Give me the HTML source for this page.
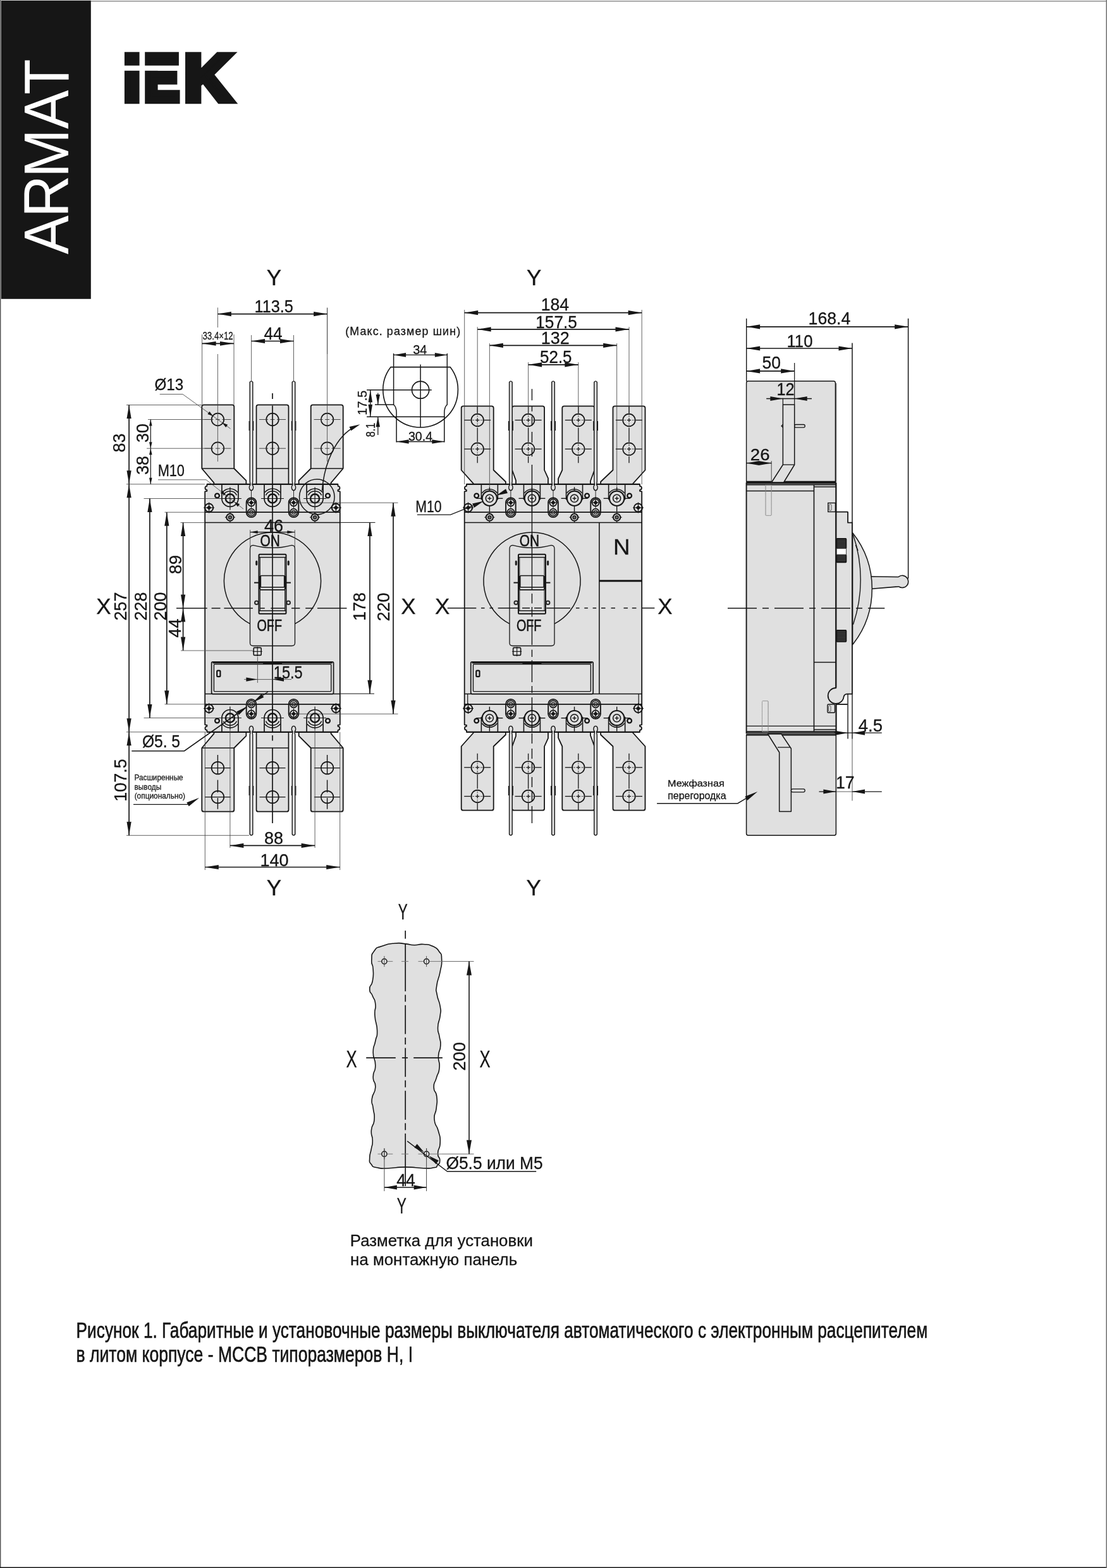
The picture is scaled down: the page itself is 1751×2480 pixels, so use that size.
<!DOCTYPE html>
<html lang="ru">
<head>
<meta charset="utf-8">
<title>ARMAT IEK - MCCB H, I</title>
<style>
html,body{margin:0;padding:0;background:#fff;}
body{width:1751px;height:2480px;overflow:hidden;position:relative;font-family:"Liberation Sans", "DejaVu Sans", sans-serif;}
svg{position:absolute;left:0;top:0;display:block;will-change:transform;}
svg text{font-family:"Liberation Sans", "DejaVu Sans", sans-serif;}
.d text{stroke:#161616;stroke-width:.3px;}
.d .b text{stroke-width:.55px;}
</style>
</head>
<body>
<svg width="1751" height="2480" viewBox="0 0 1751 2480">
<rect x="0" y="0" width="1751" height="2480" rx="0" fill="#ffffff" stroke="none"/>
<rect x="1.8" y="0.8" width="142" height="472" rx="0" fill="#161616" stroke="none"/>
<text transform="translate(108.1 402) rotate(-90) scale(0.92 1)" font-size="100.1" x="-0.2 63.3 131.8 215.3 274.5" fill="#ffffff">ARMAT</text>
<text id="logo" y="158.60" font-size="104.2" font-weight="bold" fill="#161616" stroke="#161616" stroke-width="10.4" stroke-linejoin="miter" stroke-miterlimit="10"><tspan x="195.35" textLength="27.00" lengthAdjust="spacingAndGlyphs">I</tspan><tspan x="227.68" textLength="55.92" lengthAdjust="spacingAndGlyphs">E</tspan><tspan x="291.23" textLength="75.14" lengthAdjust="spacingAndGlyphs">K</tspan></text>
<rect x="190" y="103.7" width="98.5" height="8.1" rx="0" fill="#ffffff" stroke="none"/>
<g class="d">
<path d="M338.4 766.0 L338.4 763.6 L319.3 741.0 L319.3 643.3 Q319.3 640.3 322.3 640.3 L367.3 640.3 Q370.3 640.3 370.3 643.3 L370.3 741.0 L389.4 760.1 L389.4 766.0 Z" fill="#e0e0e0" stroke="#161616" stroke-width="1.8" stroke-linejoin="round"/>
<line x1="319.3" y1="741" x2="370.3" y2="741" stroke="#161616" stroke-width="1.5"/>
<path d="M405.5 766.0 L405.5 643.3 Q405.5 640.3 408.5 640.3 L453.5 640.3 Q456.5 640.3 456.5 643.3 L456.5 766.0 Z" fill="#e0e0e0" stroke="#161616" stroke-width="1.8" stroke-linejoin="round"/>
<line x1="405.5" y1="741" x2="456.5" y2="741" stroke="#161616" stroke-width="1.4"/>
<path d="M472.6 766.0 L472.6 760.1 L491.7 741.0 L491.7 643.3 Q491.7 640.3 494.7 640.3 L539.7 640.3 Q542.7 640.3 542.7 643.3 L542.7 741.0 L523.6 763.6 L523.6 766.0 Z" fill="#e0e0e0" stroke="#161616" stroke-width="1.8" stroke-linejoin="round"/>
<line x1="491.7" y1="741" x2="542.7" y2="741" stroke="#161616" stroke-width="1.5"/>
<path d="M338.4 1158.0 L338.4 1160.4 L319.3 1183.0 L319.3 1280.7 Q319.3 1283.7 322.3 1283.7 L367.3 1283.7 Q370.3 1283.7 370.3 1280.7 L370.3 1183.0 L389.4 1163.9 L389.4 1158.0 Z" fill="#e0e0e0" stroke="#161616" stroke-width="1.8" stroke-linejoin="round"/>
<line x1="319.3" y1="1183" x2="370.3" y2="1183" stroke="#161616" stroke-width="1.5"/>
<path d="M405.5 1158.0 L405.5 1280.7 Q405.5 1283.7 408.5 1283.7 L453.5 1283.7 Q456.5 1283.7 456.5 1280.7 L456.5 1158.0 Z" fill="#e0e0e0" stroke="#161616" stroke-width="1.8" stroke-linejoin="round"/>
<line x1="405.5" y1="1183" x2="456.5" y2="1183" stroke="#161616" stroke-width="1.4"/>
<path d="M472.6 1158.0 L472.6 1163.9 L491.7 1183.0 L491.7 1280.7 Q491.7 1283.7 494.7 1283.7 L539.7 1283.7 Q542.7 1283.7 542.7 1280.7 L542.7 1183.0 L523.6 1160.4 L523.6 1158.0 Z" fill="#e0e0e0" stroke="#161616" stroke-width="1.8" stroke-linejoin="round"/>
<line x1="491.7" y1="1183" x2="542.7" y2="1183" stroke="#161616" stroke-width="1.5"/>
<path d="M327.4 765.8 L534.5 765.8 L534.5 768.8 A3 3 0 0 1 534.5 774.8 L534.5 776.8 L537.8 777.3 L537.8 1146.3 L534.5 1146.8 L534.5 1148.8 A3 3 0 0 1 534.5 1154.8 L534.5 1157.8 L327.4 1157.8 L327.4 1154.8 A3 3 0 0 1 327.4 1148.8 L327.4 1146.8 L324.2 1146.3 L324.2 777.3 L327.4 776.8 L327.4 774.8 A3 3 0 0 1 327.4 768.8 Z" fill="#e0e0e0" stroke="#161616" stroke-width="1.8" stroke-linejoin="round"/>
<line x1="327.45" y1="765.8" x2="534.55" y2="765.8" stroke="#161616" stroke-width="2.2"/>
<line x1="327.45" y1="1157.8" x2="534.55" y2="1157.8" stroke="#161616" stroke-width="2"/>
<line x1="324.25" y1="810.2" x2="537.75" y2="810.2" stroke="#161616" stroke-width="1.7"/>
<line x1="324.25" y1="826.6" x2="537.75" y2="826.6" stroke="#161616" stroke-width="1.5"/>
<line x1="324.25" y1="1097.4" x2="537.75" y2="1097.4" stroke="#161616" stroke-width="1.5"/>
<line x1="324.25" y1="1113.8" x2="537.75" y2="1113.8" stroke="#161616" stroke-width="1.7"/>
<path d="M395.2 761.0 L395.2 604.5 Q397.5 601.3 399.8 604.5 L399.8 761.0 C399.8 764.0 398.9 764.5 399.1 767.0 C401.7 769.0 400.9 775.6 397.5 775.6 C394.1 775.6 393.3 769.0 395.9 767.0 C396.1 764.5 395.2 764.0 395.2 761.0 Z" fill="#e0e0e0" stroke="#161616" stroke-width="1.4" stroke-linejoin="round"/>
<line x1="394.1" y1="666" x2="394.1" y2="681" stroke="#161616" stroke-width="1.1"/>
<line x1="400.9" y1="666" x2="400.9" y2="681" stroke="#161616" stroke-width="1.1"/>
<line x1="397.5" y1="776" x2="397.5" y2="787" stroke="#161616" stroke-width="0.9"/>
<path d="M462.2 761.0 L462.2 604.5 Q464.5 601.3 466.8 604.5 L466.8 761.0 C466.8 764.0 465.9 764.5 466.1 767.0 C468.7 769.0 467.9 775.6 464.5 775.6 C461.1 775.6 460.3 769.0 462.9 767.0 C463.1 764.5 462.2 764.0 462.2 761.0 Z" fill="#e0e0e0" stroke="#161616" stroke-width="1.4" stroke-linejoin="round"/>
<line x1="461.1" y1="666" x2="461.1" y2="681" stroke="#161616" stroke-width="1.1"/>
<line x1="467.9" y1="666" x2="467.9" y2="681" stroke="#161616" stroke-width="1.1"/>
<line x1="464.5" y1="776" x2="464.5" y2="787" stroke="#161616" stroke-width="0.9"/>
<path d="M395.2 1163.0 L395.2 1319.5 Q397.5 1322.7 399.8 1319.5 L399.8 1163.0 C399.8 1160.0 398.9 1159.5 399.1 1157.0 C401.7 1155.0 400.9 1148.4 397.5 1148.4 C394.1 1148.4 393.3 1155.0 395.9 1157.0 C396.1 1159.5 395.2 1160.0 395.2 1163.0 Z" fill="#e0e0e0" stroke="#161616" stroke-width="1.4" stroke-linejoin="round"/>
<line x1="394.1" y1="1258" x2="394.1" y2="1243" stroke="#161616" stroke-width="1.1"/>
<line x1="400.9" y1="1258" x2="400.9" y2="1243" stroke="#161616" stroke-width="1.1"/>
<path d="M462.2 1163.0 L462.2 1319.5 Q464.5 1322.7 466.8 1319.5 L466.8 1163.0 C466.8 1160.0 465.9 1159.5 466.1 1157.0 C468.7 1155.0 467.9 1148.4 464.5 1148.4 C461.1 1148.4 460.3 1155.0 462.9 1157.0 C463.1 1159.5 462.2 1160.0 462.2 1163.0 Z" fill="#e0e0e0" stroke="#161616" stroke-width="1.4" stroke-linejoin="round"/>
<line x1="461.1" y1="1258" x2="461.1" y2="1243" stroke="#161616" stroke-width="1.1"/>
<line x1="467.9" y1="1258" x2="467.9" y2="1243" stroke="#161616" stroke-width="1.1"/>
<circle cx="344.4" cy="663.5" r="9.8" fill="none" stroke="#161616" stroke-width="1.7"/>
<line x1="323.4" y1="663.5" x2="337.4" y2="663.5" stroke="#333" stroke-width="0.9"/>
<line x1="340.9" y1="663.5" x2="347.9" y2="663.5" stroke="#333" stroke-width="0.9"/>
<line x1="351.4" y1="663.5" x2="365.4" y2="663.5" stroke="#333" stroke-width="0.9"/>
<circle cx="344.4" cy="709.2" r="9.8" fill="none" stroke="#161616" stroke-width="1.7"/>
<line x1="323.4" y1="709.2" x2="337.4" y2="709.2" stroke="#333" stroke-width="0.9"/>
<line x1="340.9" y1="709.2" x2="347.9" y2="709.2" stroke="#333" stroke-width="0.9"/>
<line x1="351.4" y1="709.2" x2="365.4" y2="709.2" stroke="#333" stroke-width="0.9"/>
<circle cx="344.4" cy="1214.6" r="9.8" fill="none" stroke="#161616" stroke-width="1.7"/>
<line x1="323.9" y1="1214.6" x2="364.9" y2="1214.6" stroke="#161616" stroke-width="1.4"/>
<circle cx="344.4" cy="1260.6" r="9.8" fill="none" stroke="#161616" stroke-width="1.7"/>
<line x1="323.9" y1="1260.6" x2="364.9" y2="1260.6" stroke="#161616" stroke-width="1.4"/>
<line x1="344.4" y1="1194" x2="344.4" y2="1225" stroke="#161616" stroke-width="1.4"/>
<line x1="344.4" y1="1233.6" x2="344.4" y2="1253.5" stroke="#161616" stroke-width="1.4"/>
<line x1="344.4" y1="1262" x2="344.4" y2="1279.7" stroke="#161616" stroke-width="1.4"/>
<circle cx="431" cy="663.5" r="9.8" fill="none" stroke="#161616" stroke-width="1.7"/>
<line x1="410" y1="663.5" x2="424" y2="663.5" stroke="#333" stroke-width="0.9"/>
<line x1="427.5" y1="663.5" x2="434.5" y2="663.5" stroke="#333" stroke-width="0.9"/>
<line x1="438" y1="663.5" x2="452" y2="663.5" stroke="#333" stroke-width="0.9"/>
<circle cx="431" cy="709.2" r="9.8" fill="none" stroke="#161616" stroke-width="1.7"/>
<line x1="410" y1="709.2" x2="424" y2="709.2" stroke="#333" stroke-width="0.9"/>
<line x1="427.5" y1="709.2" x2="434.5" y2="709.2" stroke="#333" stroke-width="0.9"/>
<line x1="438" y1="709.2" x2="452" y2="709.2" stroke="#333" stroke-width="0.9"/>
<circle cx="431" cy="1214.6" r="9.8" fill="none" stroke="#161616" stroke-width="1.7"/>
<line x1="410.5" y1="1214.6" x2="451.5" y2="1214.6" stroke="#161616" stroke-width="1.4"/>
<circle cx="431" cy="1260.6" r="9.8" fill="none" stroke="#161616" stroke-width="1.7"/>
<line x1="410.5" y1="1260.6" x2="451.5" y2="1260.6" stroke="#161616" stroke-width="1.4"/>
<circle cx="517.6" cy="663.5" r="9.8" fill="none" stroke="#161616" stroke-width="1.7"/>
<line x1="496.6" y1="663.5" x2="510.6" y2="663.5" stroke="#333" stroke-width="0.9"/>
<line x1="514.1" y1="663.5" x2="521.1" y2="663.5" stroke="#333" stroke-width="0.9"/>
<line x1="524.6" y1="663.5" x2="538.6" y2="663.5" stroke="#333" stroke-width="0.9"/>
<circle cx="517.6" cy="709.2" r="9.8" fill="none" stroke="#161616" stroke-width="1.7"/>
<line x1="496.6" y1="709.2" x2="510.6" y2="709.2" stroke="#333" stroke-width="0.9"/>
<line x1="514.1" y1="709.2" x2="521.1" y2="709.2" stroke="#333" stroke-width="0.9"/>
<line x1="524.6" y1="709.2" x2="538.6" y2="709.2" stroke="#333" stroke-width="0.9"/>
<circle cx="517.6" cy="1214.6" r="9.8" fill="none" stroke="#161616" stroke-width="1.7"/>
<line x1="497.1" y1="1214.6" x2="538.1" y2="1214.6" stroke="#161616" stroke-width="1.4"/>
<circle cx="517.6" cy="1260.6" r="9.8" fill="none" stroke="#161616" stroke-width="1.7"/>
<line x1="497.1" y1="1260.6" x2="538.1" y2="1260.6" stroke="#161616" stroke-width="1.4"/>
<line x1="517.6" y1="1194" x2="517.6" y2="1225" stroke="#161616" stroke-width="1.4"/>
<line x1="517.6" y1="1233.6" x2="517.6" y2="1253.5" stroke="#161616" stroke-width="1.4"/>
<line x1="517.6" y1="1262" x2="517.6" y2="1279.7" stroke="#161616" stroke-width="1.4"/>
<line x1="344.4" y1="560" x2="344.4" y2="730" stroke="#3a3a3a" stroke-width="0.8"/>
<line x1="517.6" y1="487" x2="517.6" y2="730" stroke="#3a3a3a" stroke-width="0.8"/>
<path d="M350.9 766.0 L350.9 788.5 A13.0 13.0 0 0 0 376.9 788.5 L376.9 766.0" fill="none" stroke="#161616" stroke-width="1.7" stroke-linejoin="round"/>
<path d="M351.7 778.8 A15.6 15.6 0 0 1 376.1 778.8" fill="none" stroke="#161616" stroke-width="1.5" stroke-linejoin="round"/>
<path d="M353.3 783.3 A11.8 11.8 0 0 1 374.5 783.3" fill="none" stroke="#161616" stroke-width="1.5" stroke-linejoin="round"/>
<circle cx="363.9" cy="788.5" r="7" fill="none" stroke="#161616" stroke-width="2.5"/>
<line x1="345.9" y1="788.5" x2="381.9" y2="788.5" stroke="#161616" stroke-width="1.2"/>
<line x1="363.9" y1="770.5" x2="363.9" y2="806.5" stroke="#161616" stroke-width="1.2"/>
<path d="M350.9 1158.0 L350.9 1135.5 A13.0 13.0 0 0 1 376.9 1135.5 L376.9 1158.0" fill="none" stroke="#161616" stroke-width="1.7" stroke-linejoin="round"/>
<path d="M351.7 1145.2 A15.6 15.6 0 0 0 376.1 1145.2" fill="none" stroke="#161616" stroke-width="1.5" stroke-linejoin="round"/>
<path d="M353.3 1140.7 A11.8 11.8 0 0 0 374.5 1140.7" fill="none" stroke="#161616" stroke-width="1.5" stroke-linejoin="round"/>
<circle cx="363.9" cy="1135.5" r="7" fill="none" stroke="#161616" stroke-width="2.5"/>
<line x1="345.9" y1="1135.5" x2="381.9" y2="1135.5" stroke="#161616" stroke-width="1.2"/>
<line x1="363.9" y1="1117.5" x2="363.9" y2="1153.5" stroke="#161616" stroke-width="1.2"/>
<path d="M418.0 766.0 L418.0 788.5 A13.0 13.0 0 0 0 444.0 788.5 L444.0 766.0" fill="none" stroke="#161616" stroke-width="1.7" stroke-linejoin="round"/>
<path d="M418.8 778.8 A15.6 15.6 0 0 1 443.2 778.8" fill="none" stroke="#161616" stroke-width="1.5" stroke-linejoin="round"/>
<path d="M420.4 783.3 A11.8 11.8 0 0 1 441.6 783.3" fill="none" stroke="#161616" stroke-width="1.5" stroke-linejoin="round"/>
<circle cx="431" cy="788.5" r="7" fill="none" stroke="#161616" stroke-width="2.5"/>
<line x1="413" y1="788.5" x2="449" y2="788.5" stroke="#161616" stroke-width="1.2"/>
<line x1="431" y1="770.5" x2="431" y2="806.5" stroke="#161616" stroke-width="1.2"/>
<path d="M418.0 1158.0 L418.0 1135.5 A13.0 13.0 0 0 1 444.0 1135.5 L444.0 1158.0" fill="none" stroke="#161616" stroke-width="1.7" stroke-linejoin="round"/>
<path d="M418.8 1145.2 A15.6 15.6 0 0 0 443.2 1145.2" fill="none" stroke="#161616" stroke-width="1.5" stroke-linejoin="round"/>
<path d="M420.4 1140.7 A11.8 11.8 0 0 0 441.6 1140.7" fill="none" stroke="#161616" stroke-width="1.5" stroke-linejoin="round"/>
<circle cx="431" cy="1135.5" r="7" fill="none" stroke="#161616" stroke-width="2.5"/>
<line x1="413" y1="1135.5" x2="449" y2="1135.5" stroke="#161616" stroke-width="1.2"/>
<line x1="431" y1="1117.5" x2="431" y2="1153.5" stroke="#161616" stroke-width="1.2"/>
<path d="M485.1 766.0 L485.1 788.5 A13.0 13.0 0 0 0 511.1 788.5 L511.1 766.0" fill="none" stroke="#161616" stroke-width="1.7" stroke-linejoin="round"/>
<path d="M485.9 778.8 A15.6 15.6 0 0 1 510.3 778.8" fill="none" stroke="#161616" stroke-width="1.5" stroke-linejoin="round"/>
<path d="M487.5 783.3 A11.8 11.8 0 0 1 508.7 783.3" fill="none" stroke="#161616" stroke-width="1.5" stroke-linejoin="round"/>
<circle cx="498.1" cy="788.5" r="7" fill="none" stroke="#161616" stroke-width="2.5"/>
<line x1="480.1" y1="788.5" x2="516.1" y2="788.5" stroke="#161616" stroke-width="1.2"/>
<line x1="498.1" y1="770.5" x2="498.1" y2="806.5" stroke="#161616" stroke-width="1.2"/>
<path d="M485.1 1158.0 L485.1 1135.5 A13.0 13.0 0 0 1 511.1 1135.5 L511.1 1158.0" fill="none" stroke="#161616" stroke-width="1.7" stroke-linejoin="round"/>
<path d="M485.9 1145.2 A15.6 15.6 0 0 0 510.3 1145.2" fill="none" stroke="#161616" stroke-width="1.5" stroke-linejoin="round"/>
<path d="M487.5 1140.7 A11.8 11.8 0 0 0 508.7 1140.7" fill="none" stroke="#161616" stroke-width="1.5" stroke-linejoin="round"/>
<circle cx="498.1" cy="1135.5" r="7" fill="none" stroke="#161616" stroke-width="2.5"/>
<line x1="480.1" y1="1135.5" x2="516.1" y2="1135.5" stroke="#161616" stroke-width="1.2"/>
<line x1="498.1" y1="1117.5" x2="498.1" y2="1153.5" stroke="#161616" stroke-width="1.2"/>
<circle cx="330.6" cy="803" r="6.6" fill="none" stroke="#161616" stroke-width="2"/>
<path d="M327 803 L330.6 799.4 L334.2 803 L330.6 806.6 Z" fill="#161616" stroke="#161616" stroke-width="0.5" stroke-linejoin="miter"/>
<line x1="322.1" y1="803" x2="339.1" y2="803" stroke="#161616" stroke-width="1.1"/>
<line x1="330.6" y1="794.5" x2="330.6" y2="811.5" stroke="#161616" stroke-width="1.1"/>
<circle cx="330.6" cy="1120.5" r="6.6" fill="none" stroke="#161616" stroke-width="2"/>
<path d="M327 1120.5 L330.6 1116.9 L334.2 1120.5 L330.6 1124.1 Z" fill="#161616" stroke="#161616" stroke-width="0.5" stroke-linejoin="miter"/>
<line x1="322.1" y1="1120.5" x2="339.1" y2="1120.5" stroke="#161616" stroke-width="1.1"/>
<line x1="330.6" y1="1112" x2="330.6" y2="1129" stroke="#161616" stroke-width="1.1"/>
<circle cx="343.5" cy="784" r="3.4" fill="none" stroke="#161616" stroke-width="2.3"/>
<circle cx="343.5" cy="1140" r="3.4" fill="none" stroke="#161616" stroke-width="2.3"/>
<circle cx="363.9" cy="818.2" r="5.6" fill="none" stroke="#161616" stroke-width="2"/>
<circle cx="363.9" cy="818.2" r="2.6" fill="#666" stroke="#161616" stroke-width="1.3"/>
<line x1="355.9" y1="818.2" x2="358.9" y2="818.2" stroke="#161616" stroke-width="1.2"/>
<line x1="368.9" y1="818.2" x2="371.9" y2="818.2" stroke="#161616" stroke-width="1.2"/>
<line x1="363.9" y1="810.2" x2="363.9" y2="813.2" stroke="#161616" stroke-width="1.2"/>
<line x1="363.9" y1="823.2" x2="363.9" y2="826.2" stroke="#161616" stroke-width="1.2"/>
<rect x="389.7" y="787.2" width="15.6" height="30.9" rx="7.8" fill="none" stroke="#161616" stroke-width="1.9"/>
<circle cx="397.5" cy="795" r="5.6" fill="none" stroke="#161616" stroke-width="1.7"/>
<path d="M394.1 795 L397.5 791.6 L400.9 795 L397.5 798.4 Z" fill="#161616" stroke="#161616" stroke-width="0.5" stroke-linejoin="miter"/>
<line x1="389" y1="795" x2="406" y2="795" stroke="#161616" stroke-width="1"/>
<line x1="397.5" y1="786.5" x2="397.5" y2="803.5" stroke="#161616" stroke-width="1"/>
<circle cx="397.5" cy="810.3" r="5.6" fill="none" stroke="#161616" stroke-width="1.7"/>
<circle cx="397.5" cy="810.3" r="2.9" fill="none" stroke="#161616" stroke-width="1.2"/>
<circle cx="397.5" cy="810.3" r="0.8" fill="#161616" stroke="#161616" stroke-width="0.8"/>
<rect x="389.7" y="1105.9" width="15.6" height="30.9" rx="7.8" fill="none" stroke="#161616" stroke-width="1.9"/>
<circle cx="397.5" cy="1129" r="5.6" fill="none" stroke="#161616" stroke-width="1.7"/>
<path d="M394.1 1129 L397.5 1125.6 L400.9 1129 L397.5 1132.4 Z" fill="#161616" stroke="#161616" stroke-width="0.5" stroke-linejoin="miter"/>
<line x1="389" y1="1129" x2="406" y2="1129" stroke="#161616" stroke-width="1"/>
<line x1="397.5" y1="1120.5" x2="397.5" y2="1137.5" stroke="#161616" stroke-width="1"/>
<circle cx="397.5" cy="1113.7" r="5.6" fill="none" stroke="#161616" stroke-width="1.7"/>
<circle cx="397.5" cy="1113.7" r="2.9" fill="none" stroke="#161616" stroke-width="1.2"/>
<circle cx="397.5" cy="1113.7" r="0.8" fill="#161616" stroke="#161616" stroke-width="0.8"/>
<circle cx="531.4" cy="803" r="6.6" fill="none" stroke="#161616" stroke-width="2"/>
<path d="M527.8 803 L531.4 799.4 L535 803 L531.4 806.6 Z" fill="#161616" stroke="#161616" stroke-width="0.5" stroke-linejoin="miter"/>
<line x1="522.9" y1="803" x2="539.9" y2="803" stroke="#161616" stroke-width="1.1"/>
<line x1="531.4" y1="794.5" x2="531.4" y2="811.5" stroke="#161616" stroke-width="1.1"/>
<circle cx="531.4" cy="1120.5" r="6.6" fill="none" stroke="#161616" stroke-width="2"/>
<path d="M527.8 1120.5 L531.4 1116.9 L535 1120.5 L531.4 1124.1 Z" fill="#161616" stroke="#161616" stroke-width="0.5" stroke-linejoin="miter"/>
<line x1="522.9" y1="1120.5" x2="539.9" y2="1120.5" stroke="#161616" stroke-width="1.1"/>
<line x1="531.4" y1="1112" x2="531.4" y2="1129" stroke="#161616" stroke-width="1.1"/>
<circle cx="518.5" cy="784" r="3.4" fill="none" stroke="#161616" stroke-width="2.3"/>
<circle cx="518.5" cy="1140" r="3.4" fill="none" stroke="#161616" stroke-width="2.3"/>
<circle cx="498.1" cy="818.2" r="5.6" fill="none" stroke="#161616" stroke-width="2"/>
<circle cx="498.1" cy="818.2" r="2.6" fill="#666" stroke="#161616" stroke-width="1.3"/>
<line x1="490.1" y1="818.2" x2="493.1" y2="818.2" stroke="#161616" stroke-width="1.2"/>
<line x1="503.1" y1="818.2" x2="506.1" y2="818.2" stroke="#161616" stroke-width="1.2"/>
<line x1="498.1" y1="810.2" x2="498.1" y2="813.2" stroke="#161616" stroke-width="1.2"/>
<line x1="498.1" y1="823.2" x2="498.1" y2="826.2" stroke="#161616" stroke-width="1.2"/>
<rect x="456.7" y="787.2" width="15.6" height="30.9" rx="7.8" fill="none" stroke="#161616" stroke-width="1.9"/>
<circle cx="464.5" cy="795" r="5.6" fill="none" stroke="#161616" stroke-width="1.7"/>
<path d="M461.1 795 L464.5 791.6 L467.9 795 L464.5 798.4 Z" fill="#161616" stroke="#161616" stroke-width="0.5" stroke-linejoin="miter"/>
<line x1="456" y1="795" x2="473" y2="795" stroke="#161616" stroke-width="1"/>
<line x1="464.5" y1="786.5" x2="464.5" y2="803.5" stroke="#161616" stroke-width="1"/>
<circle cx="464.5" cy="810.3" r="5.6" fill="none" stroke="#161616" stroke-width="1.7"/>
<circle cx="464.5" cy="810.3" r="2.9" fill="none" stroke="#161616" stroke-width="1.2"/>
<circle cx="464.5" cy="810.3" r="0.8" fill="#161616" stroke="#161616" stroke-width="0.8"/>
<rect x="456.7" y="1105.9" width="15.6" height="30.9" rx="7.8" fill="none" stroke="#161616" stroke-width="1.9"/>
<circle cx="464.5" cy="1129" r="5.6" fill="none" stroke="#161616" stroke-width="1.7"/>
<path d="M461.1 1129 L464.5 1125.6 L467.9 1129 L464.5 1132.4 Z" fill="#161616" stroke="#161616" stroke-width="0.5" stroke-linejoin="miter"/>
<line x1="456" y1="1129" x2="473" y2="1129" stroke="#161616" stroke-width="1"/>
<line x1="464.5" y1="1120.5" x2="464.5" y2="1137.5" stroke="#161616" stroke-width="1"/>
<circle cx="464.5" cy="1113.7" r="5.6" fill="none" stroke="#161616" stroke-width="1.7"/>
<circle cx="464.5" cy="1113.7" r="2.9" fill="none" stroke="#161616" stroke-width="1.2"/>
<circle cx="464.5" cy="1113.7" r="0.8" fill="#161616" stroke="#161616" stroke-width="0.8"/>
<path d="M395.5 986.6 A76.6 76.6 0 1 1 466.5 986.6" fill="none" stroke="#161616" stroke-width="1.5" stroke-linejoin="round"/>
<path d="M395.5 1017.0 L395.5 868.0 Q395.5 862.5 400.5 862.3 Q431.0 870.6 461.5 862.3 Q466.5 862.5 466.5 868.0 L466.5 1017.0 Q466.5 1021.5 461.5 1021.5 L400.5 1021.5 Q395.5 1021.5 395.5 1017.0 Z" fill="#e0e0e0" stroke="#161616" stroke-width="1.3" stroke-linejoin="round"/>
<rect x="409.5" y="876.8" width="43" height="94" rx="1.5" fill="none" stroke="#161616" stroke-width="2"/>
<line x1="410" y1="881.5" x2="452" y2="881.5" stroke="#161616" stroke-width="1.4"/>
<line x1="410" y1="966" x2="452" y2="966" stroke="#161616" stroke-width="1.4"/>
<line x1="411.4" y1="881.5" x2="411.4" y2="966" stroke="#161616" stroke-width="1"/>
<line x1="450.6" y1="881.5" x2="450.6" y2="966" stroke="#161616" stroke-width="1"/>
<rect x="412.3" y="910.5" width="37.4" height="18.3" rx="1" fill="none" stroke="#161616" stroke-width="1.6"/>
<line x1="411" y1="932.8" x2="451" y2="932.8" stroke="#161616" stroke-width="1.7"/>
<line x1="411" y1="911" x2="411" y2="932" stroke="#161616" stroke-width="2.4"/>
<line x1="451" y1="911" x2="451" y2="932" stroke="#161616" stroke-width="2.4"/>
<line x1="402" y1="921.6" x2="409.5" y2="921.6" stroke="#161616" stroke-width="2"/>
<line x1="452.5" y1="921.6" x2="460" y2="921.6" stroke="#161616" stroke-width="2"/>
<rect x="404.8" y="887" width="2" height="7" rx="1" fill="#222" stroke="#161616" stroke-width="1"/>
<circle cx="405.8" cy="953.3" r="2.8" fill="none" stroke="#2a2a2a" stroke-width="2"/>
<rect x="455.2" y="887" width="2" height="7" rx="1" fill="#222" stroke="#161616" stroke-width="1"/>
<circle cx="456.2" cy="953.3" r="2.8" fill="none" stroke="#2a2a2a" stroke-width="2"/>
<g class="b">
<text transform="translate(411.41 863.7) scale(0.8154 1)" font-size="25.58" fill="#161616">ON</text>
<text transform="translate(406.46 997.6) scale(0.7728 1)" font-size="25.58" fill="#161616">OFF</text>
</g>
<rect x="401.2" y="1024.4" width="12" height="12" rx="1.5" fill="none" stroke="#161616" stroke-width="1.6"/>
<line x1="399.7" y1="1030.4" x2="414.7" y2="1030.4" stroke="#161616" stroke-width="1.1"/>
<line x1="407.2" y1="1022.9" x2="407.2" y2="1037.9" stroke="#161616" stroke-width="1.1"/>
<rect x="334.6" y="1046.8" width="193" height="50.8" rx="2" fill="#e0e0e0" stroke="#161616" stroke-width="1.7"/>
<rect x="338.4" y="1050.6" width="185.4" height="43" rx="1" fill="none" stroke="#161616" stroke-width="1.4"/>
<line x1="336.6" y1="1048.3" x2="525.6" y2="1048.3" stroke="#161616" stroke-width="2.4"/>
<line x1="416.1" y1="1049.2" x2="446.1" y2="1049.2" stroke="#161616" stroke-width="3.2"/>
<rect x="343.2" y="1060.6" width="5.2" height="9.6" rx="1.4" fill="none" stroke="#161616" stroke-width="2.2"/>
<circle cx="501.3" cy="785.9" r="27.8" fill="none" stroke="#161616" stroke-width="1.5"/>
<path d="M509.5 776 C512.5 735 530 690 563 674" fill="none" stroke="#161616" stroke-width="1.5" stroke-linejoin="round"/>
<polygon points="569.5,671.2 555.35,681.22 552.59,675.01" fill="#161616"/>
<line x1="279" y1="962" x2="327.7" y2="962" stroke="#161616" stroke-width="1.5"/>
<line x1="334.6" y1="962" x2="348.5" y2="962" stroke="#161616" stroke-width="1.5"/>
<line x1="354.4" y1="962" x2="400" y2="962" stroke="#161616" stroke-width="1.5"/>
<line x1="411" y1="962" x2="418.8" y2="962" stroke="#161616" stroke-width="1.5"/>
<line x1="428.3" y1="962" x2="451" y2="962" stroke="#161616" stroke-width="1.5"/>
<line x1="461" y1="962" x2="474.4" y2="962" stroke="#161616" stroke-width="1.5"/>
<line x1="483.2" y1="962" x2="495.5" y2="962" stroke="#161616" stroke-width="1.5"/>
<line x1="502" y1="962" x2="548.5" y2="962" stroke="#161616" stroke-width="1.5"/>
<line x1="431" y1="622" x2="431" y2="631" stroke="#161616" stroke-width="1.7"/>
<line x1="431" y1="641.5" x2="431" y2="1157.7" stroke="#161616" stroke-width="1.7"/>
<line x1="431" y1="1163" x2="431" y2="1171.6" stroke="#161616" stroke-width="1.7"/>
<line x1="431" y1="1182.7" x2="431" y2="1302" stroke="#161616" stroke-width="1.7"/>
<line x1="344.4" y1="486.5" x2="344.4" y2="518" stroke="#3a3a3a" stroke-width="0.8"/>
<line x1="517.6" y1="486.5" x2="517.6" y2="560" stroke="#3a3a3a" stroke-width="0.8"/>
<line x1="344.4" y1="496.6" x2="517.6" y2="496.6" stroke="#161616" stroke-width="1.7"/>
<polygon points="344.4,496.6 365.9,493 365.9,500.2" fill="#161616"/>
<polygon points="517.6,496.6 496.1,500.2 496.1,493" fill="#161616"/>
<text transform="translate(402.48 493.9) scale(0.9135 1)" font-size="27.64" fill="#161616">113.5</text>
<line x1="319.6" y1="529" x2="319.6" y2="640" stroke="#3a3a3a" stroke-width="0.8"/>
<line x1="370" y1="529" x2="370" y2="640" stroke="#3a3a3a" stroke-width="0.8"/>
<line x1="319.6" y1="543.3" x2="370" y2="543.3" stroke="#161616" stroke-width="1.7"/>
<polygon points="319.6,543.3 341.6,539.9 341.6,546.7" fill="#161616"/>
<polygon points="370,543.3 348,546.7 348,539.9" fill="#161616"/>
<text transform="translate(344.6 537.4) scale(0.78 1)" font-size="17" text-anchor="middle" fill="#161616">33.4×12</text>
<line x1="397.6" y1="530" x2="397.6" y2="603" stroke="#3a3a3a" stroke-width="0.8"/>
<line x1="464.5" y1="530" x2="464.5" y2="603" stroke="#3a3a3a" stroke-width="0.8"/>
<line x1="397.6" y1="539.5" x2="464.5" y2="539.5" stroke="#161616" stroke-width="1.7"/>
<polygon points="397.6,539.5 419.1,535.9 419.1,543.1" fill="#161616"/>
<polygon points="464.5,539.5 443,543.1 443,535.9" fill="#161616"/>
<text transform="translate(417.5 537.3) scale(0.9446 1)" font-size="27.76" fill="#161616">44</text>
<text transform="translate(267.3 616.5) scale(0.93 1)" font-size="26" text-anchor="middle" fill="#161616">Ø13</text>
<path d="M252.7 623.5 L289 623.5 L364.5 678" fill="none" stroke="#3a3a3a" stroke-width="0.8" stroke-linejoin="miter"/>
<polygon points="337.2,658.2 328.37,655.06 331.41,650.84" fill="#161616"/>
<polygon points="351.4,668.6 360.23,671.74 357.19,675.96" fill="#161616"/>
<line x1="200" y1="640.5" x2="319" y2="640.5" stroke="#3a3a3a" stroke-width="0.8"/>
<line x1="200" y1="765.8" x2="324" y2="765.8" stroke="#3a3a3a" stroke-width="0.8"/>
<line x1="200" y1="1157.8" x2="326" y2="1157.8" stroke="#3a3a3a" stroke-width="0.8"/>
<line x1="204.1" y1="640.5" x2="204.1" y2="765.8" stroke="#161616" stroke-width="1.7"/>
<polygon points="204.1,640.5 207.7,662 200.5,662" fill="#161616"/>
<polygon points="204.1,765.8 200.5,744.3 207.7,744.3" fill="#161616"/>
<line x1="204.1" y1="765.8" x2="204.1" y2="1157.8" stroke="#161616" stroke-width="1.7"/>
<polygon points="204.1,765.8 207.7,787.3 200.5,787.3" fill="#161616"/>
<polygon points="204.1,1157.8 200.5,1136.3 207.7,1136.3" fill="#161616"/>
<text transform="translate(197.8 700.5) rotate(-90)" font-size="27" text-anchor="middle" fill="#161616">83</text>
<text transform="translate(199.8 959) rotate(-90)" font-size="27" text-anchor="middle" fill="#161616">257</text>
<line x1="234" y1="663.5" x2="334" y2="663.5" stroke="#3a3a3a" stroke-width="0.8"/>
<line x1="232" y1="709.2" x2="334" y2="709.2" stroke="#3a3a3a" stroke-width="0.8"/>
<line x1="238.3" y1="663.5" x2="238.3" y2="709.2" stroke="#161616" stroke-width="1.2"/>
<polygon points="238.3,663.5 240.6,673.5 236,673.5" fill="#161616"/>
<polygon points="238.3,709.2 236,699.2 240.6,699.2" fill="#161616"/>
<line x1="238.3" y1="709.2" x2="238.3" y2="765.8" stroke="#161616" stroke-width="1.2"/>
<polygon points="238.3,709.2 240.6,719.2 236,719.2" fill="#161616"/>
<polygon points="238.3,765.8 236,755.8 240.6,755.8" fill="#161616"/>
<text transform="translate(234.8 685) rotate(-90)" font-size="27" text-anchor="middle" fill="#161616">30</text>
<text transform="translate(234.8 736) rotate(-90)" font-size="27" text-anchor="middle" fill="#161616">38</text>
<text transform="translate(270.8 753.3) scale(0.87 1)" font-size="25" text-anchor="middle" fill="#161616">M10</text>
<path d="M250 758.8 L326 758.8 L385 805" fill="none" stroke="#3a3a3a" stroke-width="0.8" stroke-linejoin="miter"/>
<polygon points="357.5,783.5 348.81,780.01 352.01,775.91" fill="#161616"/>
<polygon points="370.5,793.8 379.19,797.29 375.99,801.39" fill="#161616"/>
<line x1="227.5" y1="788.5" x2="350" y2="788.5" stroke="#3a3a3a" stroke-width="0.8"/>
<line x1="227.5" y1="1135.5" x2="350" y2="1135.5" stroke="#3a3a3a" stroke-width="0.8"/>
<line x1="236.9" y1="788.5" x2="236.9" y2="1135.5" stroke="#161616" stroke-width="1.7"/>
<polygon points="236.9,788.5 240.5,810 233.3,810" fill="#161616"/>
<polygon points="236.9,1135.5 233.3,1114 240.5,1114" fill="#161616"/>
<text transform="translate(232 959) rotate(-90)" font-size="27" text-anchor="middle" fill="#161616">228</text>
<line x1="260.5" y1="810.2" x2="324" y2="810.2" stroke="#3a3a3a" stroke-width="0.8"/>
<line x1="260.5" y1="1113.8" x2="392" y2="1113.8" stroke="#3a3a3a" stroke-width="0.8"/>
<line x1="263.8" y1="810.2" x2="263.8" y2="1113.8" stroke="#161616" stroke-width="1.7"/>
<polygon points="263.8,810.2 267.4,831.7 260.2,831.7" fill="#161616"/>
<polygon points="263.8,1113.8 260.2,1092.3 267.4,1092.3" fill="#161616"/>
<text transform="translate(262.7 959) rotate(-90)" font-size="27" text-anchor="middle" fill="#161616">200</text>
<line x1="285.5" y1="826.6" x2="324" y2="826.6" stroke="#3a3a3a" stroke-width="0.8"/>
<line x1="289.6" y1="826.6" x2="289.6" y2="962" stroke="#161616" stroke-width="1.7"/>
<polygon points="289.6,826.6 293.2,848.1 286,848.1" fill="#161616"/>
<polygon points="289.6,962 286,940.5 293.2,940.5" fill="#161616"/>
<line x1="289.6" y1="962" x2="289.6" y2="1029" stroke="#161616" stroke-width="1.7"/>
<polygon points="289.6,962 293.2,983.5 286,983.5" fill="#161616"/>
<polygon points="289.6,1029 286,1007.5 293.2,1007.5" fill="#161616"/>
<line x1="286" y1="1029" x2="400" y2="1029" stroke="#555" stroke-width="0.9"/>
<text transform="translate(286.6 893) rotate(-90)" font-size="27" text-anchor="middle" fill="#161616">89</text>
<text transform="translate(286.3 993.5) rotate(-90)" font-size="27" text-anchor="middle" fill="#161616">44</text>
<line x1="537.5" y1="826.4" x2="593.5" y2="826.4" stroke="#161616" stroke-width="1"/>
<line x1="537.5" y1="1097.2" x2="592" y2="1097.2" stroke="#161616" stroke-width="1"/>
<line x1="585" y1="826.4" x2="585" y2="1097.2" stroke="#161616" stroke-width="1.7"/>
<polygon points="585,826.4 588.6,847.9 581.4,847.9" fill="#161616"/>
<polygon points="585,1097.2 581.4,1075.7 588.6,1075.7" fill="#161616"/>
<text transform="translate(578.4 959.4) rotate(-90)" font-size="27" text-anchor="middle" fill="#161616">178</text>
<line x1="466" y1="795.2" x2="629.5" y2="795.2" stroke="#3a3a3a" stroke-width="0.8"/>
<line x1="466" y1="1129.2" x2="629.5" y2="1129.2" stroke="#3a3a3a" stroke-width="0.8"/>
<line x1="622" y1="795.2" x2="622" y2="1129.2" stroke="#161616" stroke-width="1.7"/>
<polygon points="622,795.2 625.6,816.7 618.4,816.7" fill="#161616"/>
<polygon points="622,1129.2 618.4,1107.7 625.6,1107.7" fill="#161616"/>
<text transform="translate(615.8 960) rotate(-90)" font-size="27" text-anchor="middle" fill="#161616">220</text>
<line x1="395.7" y1="838" x2="395.7" y2="870" stroke="#3a3a3a" stroke-width="0.8"/>
<line x1="466.3" y1="838" x2="466.3" y2="870" stroke="#3a3a3a" stroke-width="0.8"/>
<line x1="395.7" y1="841.6" x2="466.3" y2="841.6" stroke="#161616" stroke-width="1.3"/>
<polygon points="395.7,841.6 407.7,839.3 407.7,843.9" fill="#161616"/>
<polygon points="466.3,841.6 454.3,843.9 454.3,839.3" fill="#161616"/>
<text transform="translate(433 840.5)" font-size="27" text-anchor="middle" fill="#161616">46</text>
<line x1="407.4" y1="1039" x2="407.4" y2="1080" stroke="#3a3a3a" stroke-width="0.8"/>
<line x1="386" y1="1074.6" x2="461" y2="1074.6" stroke="#3a3a3a" stroke-width="0.8"/>
<polygon points="407.4,1074.6 389.4,1077.8 389.4,1071.4" fill="#161616"/>
<polygon points="431,1074.6 449,1071.4 449,1077.8" fill="#161616"/>
<text transform="translate(432.81 1072.6) scale(0.8795 1)" font-size="26.74" fill="#161616">15.5</text>
<text transform="translate(255 1182.2) scale(0.91 1)" font-size="27" text-anchor="middle" fill="#161616">Ø5. 5</text>
<path d="M208.3 1187.7 L291.6 1187.7 L389 1119" fill="none" stroke="#161616" stroke-width="1.6" stroke-linejoin="miter"/>
<polygon points="391.5,1117.2 377.82,1130.77 374.13,1125.54" fill="#161616"/>
<polygon points="400,1111 413.68,1097.43 417.37,1102.66" fill="#161616"/>
<line x1="415.5" y1="1100" x2="424" y2="1094" stroke="#161616" stroke-width="1.3"/>
<text transform="translate(212.43 1233.7) scale(0.8648 1)" font-size="13.66" fill="#161616">Расширенные</text>
<text transform="translate(212.58 1248.7) scale(0.8677 1)" font-size="13.63" fill="#161616">выводы</text>
<text transform="translate(212.66 1263.2) scale(0.8719 1)" font-size="13.63" fill="#161616">(опционально)</text>
<path d="M211 1272.4 L297 1272.4" fill="none" stroke="#161616" stroke-width="1.3" stroke-linejoin="miter"/>
<polygon points="315.2,1261.8 298.71,1275.24 295.31,1269.36" fill="#161616"/>
<line x1="200" y1="1321.3" x2="394" y2="1321.3" stroke="#3a3a3a" stroke-width="0.8"/>
<line x1="204.1" y1="1157.8" x2="204.1" y2="1321.3" stroke="#161616" stroke-width="1.7"/>
<polygon points="204.1,1157.8 207.7,1179.3 200.5,1179.3" fill="#161616"/>
<polygon points="204.1,1321.3 200.5,1299.8 207.7,1299.8" fill="#161616"/>
<text transform="translate(199.8 1234) rotate(-90)" font-size="27" text-anchor="middle" fill="#161616">107.5</text>
<line x1="363.9" y1="1150" x2="363.9" y2="1341" stroke="#3a3a3a" stroke-width="0.8"/>
<line x1="498.1" y1="1150" x2="498.1" y2="1341" stroke="#3a3a3a" stroke-width="0.8"/>
<line x1="363.9" y1="1337.4" x2="498.1" y2="1337.4" stroke="#161616" stroke-width="1.7"/>
<polygon points="363.9,1337.4 385.4,1333.8 385.4,1341" fill="#161616"/>
<polygon points="498.1,1337.4 476.6,1341 476.6,1333.8" fill="#161616"/>
<text transform="translate(433 1334.5)" font-size="27" text-anchor="middle" fill="#161616">88</text>
<line x1="324.3" y1="1158" x2="324.3" y2="1376" stroke="#3a3a3a" stroke-width="0.8"/>
<line x1="537.7" y1="1158" x2="537.7" y2="1376" stroke="#3a3a3a" stroke-width="0.8"/>
<line x1="324.3" y1="1371.5" x2="537.7" y2="1371.5" stroke="#161616" stroke-width="1.7"/>
<polygon points="324.3,1371.5 345.8,1367.9 345.8,1375.1" fill="#161616"/>
<polygon points="537.7,1371.5 516.2,1375.1 516.2,1367.9" fill="#161616"/>
<text transform="translate(434 1370)" font-size="27" text-anchor="middle" fill="#161616">140</text>
<text transform="translate(433.5 451.4)" font-size="35" text-anchor="middle" fill="#161616">Y</text>
<text transform="translate(433.5 1416)" font-size="35" text-anchor="middle" fill="#161616">Y</text>
<text transform="translate(163.8 971)" font-size="35" text-anchor="middle" fill="#161616">X</text>
<text transform="translate(646 971)" font-size="35" text-anchor="middle" fill="#161616">X</text>
<path d="M618.1 580.6 A59.3 59.3 0 1 0 712.1 580.6 Z" fill="none" stroke="#161616" stroke-width="1.6" stroke-linejoin="round"/>
<line x1="622.6" y1="559" x2="622.6" y2="640.5" stroke="#161616" stroke-width="1.5"/>
<line x1="707.3" y1="559" x2="707.3" y2="640.5" stroke="#161616" stroke-width="1.5"/>
<path d="M622.6 640 C626.1 643 627.1 647 627.1 653 L627.1 699.5" fill="none" stroke="#161616" stroke-width="1.5" stroke-linejoin="round"/>
<path d="M707.3 640 C703.8 643 702.8 647 702.8 653 L702.8 699.5" fill="none" stroke="#161616" stroke-width="1.5" stroke-linejoin="round"/>
<line x1="580.1" y1="616.7" x2="682.8" y2="616.7" stroke="#161616" stroke-width="1.5"/>
<line x1="593" y1="640" x2="622.6" y2="640" stroke="#161616" stroke-width="1.5"/>
<line x1="580.1" y1="659.2" x2="703.6" y2="659.2" stroke="#161616" stroke-width="1.5"/>
<line x1="665.1" y1="576.6" x2="665.1" y2="676" stroke="#161616" stroke-width="1.5"/>
<circle cx="665.1" cy="616.7" r="13.6" fill="none" stroke="#161616" stroke-width="1.6"/>
<line x1="622.6" y1="561.4" x2="707.3" y2="561.4" stroke="#161616" stroke-width="1.3"/>
<polygon points="622.6,561.4 642.1,558.1 642.1,564.7" fill="#161616"/>
<polygon points="707.3,561.4 687.8,564.7 687.8,558.1" fill="#161616"/>
<text transform="translate(653.24 559.8) scale(1.0072 1)" font-size="19.76" fill="#161616">34</text>
<line x1="627.1" y1="698.5" x2="702.8" y2="698.5" stroke="#161616" stroke-width="1.3"/>
<polygon points="627.1,698.5 646.6,695.2 646.6,701.8" fill="#161616"/>
<polygon points="702.8,698.5 683.3,701.8 683.3,695.2" fill="#161616"/>
<text transform="translate(645.95 696.9) scale(0.9937 1)" font-size="19.76" fill="#161616">30.4</text>
<line x1="585.8" y1="616.7" x2="585.8" y2="659.2" stroke="#161616" stroke-width="1.3"/>
<polygon points="585.8,616.7 589.1,636.2 582.5,636.2" fill="#161616"/>
<polygon points="585.8,659.2 582.5,639.7 589.1,639.7" fill="#161616"/>
<text transform="translate(580.1 656.74) rotate(-90) scale(1.0063 1)" font-size="20.06" fill="#161616">17.5</text>
<line x1="597.8" y1="621.5" x2="597.8" y2="640" stroke="#161616" stroke-width="1.3"/>
<polygon points="597.8,640 594.6,624 601,624" fill="#161616"/>
<line x1="597.8" y1="659.2" x2="597.8" y2="688" stroke="#161616" stroke-width="1.3"/>
<polygon points="597.8,659.2 601,675.2 594.6,675.2" fill="#161616"/>
<text transform="translate(593 691.2) rotate(-90) scale(0.8148 1)" font-size="19.76" fill="#161616">8.1</text>
<text transform="translate(546.19 530.2) scale(0.9508 1)" font-size="18.75" fill="#161616" letter-spacing="1.2">(Макс. размер шин)</text>
<path d="M748.9 766.0 L748.9 765.0 L729.7 743.5 L729.7 645.3 Q729.7 642.3 732.7 642.3 L777.7 642.3 Q780.7 642.3 780.7 645.3 L780.7 743.5 L799.9 762.0 L799.9 766.0 Z" fill="#e0e0e0" stroke="#161616" stroke-width="1.8" stroke-linejoin="round"/>
<path d="M816.0 766.0 L816.0 759.9 L810.1 743.5 L810.1 645.3 Q810.1 642.3 813.1 642.3 L858.1 642.3 Q861.1 642.3 861.1 645.3 L861.1 743.5 L867.0 756.4 L867.0 766.0 Z" fill="#e0e0e0" stroke="#161616" stroke-width="1.8" stroke-linejoin="round"/>
<path d="M883.0 766.0 L883.0 757.2 L889.3 743.5 L889.3 645.3 Q889.3 642.3 892.3 642.3 L937.3 642.3 Q940.3 642.3 940.3 645.3 L940.3 743.5 L934.0 760.8 L934.0 766.0 Z" fill="#e0e0e0" stroke="#161616" stroke-width="1.8" stroke-linejoin="round"/>
<path d="M950.1 766.0 L950.1 762.0 L969.5 743.5 L969.5 645.3 Q969.5 642.3 972.5 642.3 L1017.5 642.3 Q1020.5 642.3 1020.5 645.3 L1020.5 743.5 L1001.1 765.0 L1001.1 766.0 Z" fill="#e0e0e0" stroke="#161616" stroke-width="1.8" stroke-linejoin="round"/>
<path d="M748.9 1158.0 L748.9 1159.0 L729.7 1180.5 L729.7 1278.7 Q729.7 1281.7 732.7 1281.7 L777.7 1281.7 Q780.7 1281.7 780.7 1278.7 L780.7 1180.5 L799.9 1162.0 L799.9 1158.0 Z" fill="#e0e0e0" stroke="#161616" stroke-width="1.8" stroke-linejoin="round"/>
<path d="M816.0 1158.0 L816.0 1164.1 L810.1 1180.5 L810.1 1278.7 Q810.1 1281.7 813.1 1281.7 L858.1 1281.7 Q861.1 1281.7 861.1 1278.7 L861.1 1180.5 L867.0 1167.6 L867.0 1158.0 Z" fill="#e0e0e0" stroke="#161616" stroke-width="1.8" stroke-linejoin="round"/>
<path d="M883.0 1158.0 L883.0 1166.8 L889.3 1180.5 L889.3 1278.7 Q889.3 1281.7 892.3 1281.7 L937.3 1281.7 Q940.3 1281.7 940.3 1278.7 L940.3 1180.5 L934.0 1163.2 L934.0 1158.0 Z" fill="#e0e0e0" stroke="#161616" stroke-width="1.8" stroke-linejoin="round"/>
<path d="M950.1 1158.0 L950.1 1162.0 L969.5 1180.5 L969.5 1278.7 Q969.5 1281.7 972.5 1281.7 L1017.5 1281.7 Q1020.5 1281.7 1020.5 1278.7 L1020.5 1180.5 L1001.1 1159.0 L1001.1 1158.0 Z" fill="#e0e0e0" stroke="#161616" stroke-width="1.8" stroke-linejoin="round"/>
<path d="M737.9 765.8 L1012.0 765.8 L1012.0 768.8 A3 3 0 0 1 1012.0 774.8 L1012.0 776.8 L1015.2 777.3 L1015.2 1146.3 L1012.0 1146.8 L1012.0 1148.8 A3 3 0 0 1 1012.0 1154.8 L1012.0 1157.8 L737.9 1157.8 L737.9 1154.8 A3 3 0 0 1 737.9 1148.8 L737.9 1146.8 L734.7 1146.3 L734.7 777.3 L737.9 776.8 L737.9 774.8 A3 3 0 0 1 737.9 768.8 Z" fill="#e0e0e0" stroke="#161616" stroke-width="1.8" stroke-linejoin="round"/>
<line x1="737.9" y1="765.8" x2="1012" y2="765.8" stroke="#161616" stroke-width="2.2"/>
<line x1="737.9" y1="1157.8" x2="1012" y2="1157.8" stroke="#161616" stroke-width="2"/>
<line x1="734.7" y1="810.2" x2="1015.2" y2="810.2" stroke="#161616" stroke-width="1.7"/>
<line x1="734.7" y1="826.6" x2="1015.2" y2="826.6" stroke="#161616" stroke-width="1.5"/>
<line x1="734.7" y1="1097.4" x2="1015.2" y2="1097.4" stroke="#161616" stroke-width="1.5"/>
<line x1="734.7" y1="1113.8" x2="1015.2" y2="1113.8" stroke="#161616" stroke-width="1.7"/>
<line x1="947.9" y1="826.6" x2="947.9" y2="1097.4" stroke="#161616" stroke-width="1.6"/>
<line x1="947.9" y1="918.8" x2="1015" y2="918.8" stroke="#161616" stroke-width="3"/>
<text transform="translate(970.09 876.6) scale(1.0654 1)" font-size="34.45" fill="#161616">N</text>
<line x1="739.7" y1="1097.4" x2="739.7" y2="1113" stroke="#161616" stroke-width="1.2"/>
<line x1="1010.2" y1="1097.4" x2="1010.2" y2="1113" stroke="#161616" stroke-width="1.2"/>
<path d="M805.6 761.0 L805.6 604.5 Q807.9 601.3 810.2 604.5 L810.2 761.0 C810.2 764.0 809.3 764.5 809.5 767.0 C812.1 769.0 811.3 775.6 807.9 775.6 C804.5 775.6 803.7 769.0 806.3 767.0 C806.5 764.5 805.6 764.0 805.6 761.0 Z" fill="#e0e0e0" stroke="#161616" stroke-width="1.4" stroke-linejoin="round"/>
<line x1="804.5" y1="666" x2="804.5" y2="681" stroke="#161616" stroke-width="1.1"/>
<line x1="811.3" y1="666" x2="811.3" y2="681" stroke="#161616" stroke-width="1.1"/>
<line x1="807.9" y1="776" x2="807.9" y2="787" stroke="#161616" stroke-width="0.9"/>
<path d="M872.7 761.0 L872.7 604.5 Q875.0 601.3 877.3 604.5 L877.3 761.0 C877.3 764.0 876.4 764.5 876.6 767.0 C879.2 769.0 878.4 775.6 875.0 775.6 C871.6 775.6 870.8 769.0 873.4 767.0 C873.6 764.5 872.7 764.0 872.7 761.0 Z" fill="#e0e0e0" stroke="#161616" stroke-width="1.4" stroke-linejoin="round"/>
<line x1="871.6" y1="666" x2="871.6" y2="681" stroke="#161616" stroke-width="1.1"/>
<line x1="878.4" y1="666" x2="878.4" y2="681" stroke="#161616" stroke-width="1.1"/>
<line x1="875" y1="776" x2="875" y2="787" stroke="#161616" stroke-width="0.9"/>
<path d="M939.8 761.0 L939.8 604.5 Q942.1 601.3 944.4 604.5 L944.4 761.0 C944.4 764.0 943.5 764.5 943.7 767.0 C946.3 769.0 945.5 775.6 942.1 775.6 C938.7 775.6 937.9 769.0 940.5 767.0 C940.7 764.5 939.8 764.0 939.8 761.0 Z" fill="#e0e0e0" stroke="#161616" stroke-width="1.4" stroke-linejoin="round"/>
<line x1="938.7" y1="666" x2="938.7" y2="681" stroke="#161616" stroke-width="1.1"/>
<line x1="945.5" y1="666" x2="945.5" y2="681" stroke="#161616" stroke-width="1.1"/>
<line x1="942.1" y1="776" x2="942.1" y2="787" stroke="#161616" stroke-width="0.9"/>
<path d="M805.6 1163.0 L805.6 1319.5 Q807.9 1322.7 810.2 1319.5 L810.2 1163.0 C810.2 1160.0 809.3 1159.5 809.5 1157.0 C812.1 1155.0 811.3 1148.4 807.9 1148.4 C804.5 1148.4 803.7 1155.0 806.3 1157.0 C806.5 1159.5 805.6 1160.0 805.6 1163.0 Z" fill="#e0e0e0" stroke="#161616" stroke-width="1.4" stroke-linejoin="round"/>
<line x1="804.5" y1="1258" x2="804.5" y2="1243" stroke="#161616" stroke-width="1.1"/>
<line x1="811.3" y1="1258" x2="811.3" y2="1243" stroke="#161616" stroke-width="1.1"/>
<path d="M872.7 1163.0 L872.7 1319.5 Q875.0 1322.7 877.3 1319.5 L877.3 1163.0 C877.3 1160.0 876.4 1159.5 876.6 1157.0 C879.2 1155.0 878.4 1148.4 875.0 1148.4 C871.6 1148.4 870.8 1155.0 873.4 1157.0 C873.6 1159.5 872.7 1160.0 872.7 1163.0 Z" fill="#e0e0e0" stroke="#161616" stroke-width="1.4" stroke-linejoin="round"/>
<line x1="871.6" y1="1258" x2="871.6" y2="1243" stroke="#161616" stroke-width="1.1"/>
<line x1="878.4" y1="1258" x2="878.4" y2="1243" stroke="#161616" stroke-width="1.1"/>
<path d="M939.8 1163.0 L939.8 1319.5 Q942.1 1322.7 944.4 1319.5 L944.4 1163.0 C944.4 1160.0 943.5 1159.5 943.7 1157.0 C946.3 1155.0 945.5 1148.4 942.1 1148.4 C938.7 1148.4 937.9 1155.0 940.5 1157.0 C940.7 1159.5 939.8 1160.0 939.8 1163.0 Z" fill="#e0e0e0" stroke="#161616" stroke-width="1.4" stroke-linejoin="round"/>
<line x1="938.7" y1="1258" x2="938.7" y2="1243" stroke="#161616" stroke-width="1.1"/>
<line x1="945.5" y1="1258" x2="945.5" y2="1243" stroke="#161616" stroke-width="1.1"/>
<circle cx="755.2" cy="664.5" r="9.8" fill="none" stroke="#161616" stroke-width="1.7"/>
<line x1="734.2" y1="664.5" x2="744.6" y2="664.5" stroke="#161616" stroke-width="1.3"/>
<line x1="765.8" y1="664.5" x2="776.2" y2="664.5" stroke="#161616" stroke-width="1.3"/>
<line x1="752" y1="664.5" x2="758.4" y2="664.5" stroke="#161616" stroke-width="1.3"/>
<line x1="755.2" y1="661.3" x2="755.2" y2="667.7" stroke="#161616" stroke-width="1.3"/>
<line x1="750" y1="664.5" x2="746.6" y2="664.5" stroke="#161616" stroke-width="1.2" stroke-dasharray="1.4 1.1"/>
<line x1="755.2" y1="659.3" x2="755.2" y2="655.9" stroke="#161616" stroke-width="1.2" stroke-dasharray="1.4 1.1"/>
<line x1="760.4" y1="664.5" x2="763.8" y2="664.5" stroke="#161616" stroke-width="1.2" stroke-dasharray="1.4 1.1"/>
<line x1="755.2" y1="669.7" x2="755.2" y2="673.1" stroke="#161616" stroke-width="1.2" stroke-dasharray="1.4 1.1"/>
<circle cx="755.2" cy="710.2" r="9.8" fill="none" stroke="#161616" stroke-width="1.7"/>
<line x1="734.2" y1="710.2" x2="744.6" y2="710.2" stroke="#161616" stroke-width="1.3"/>
<line x1="765.8" y1="710.2" x2="776.2" y2="710.2" stroke="#161616" stroke-width="1.3"/>
<line x1="752" y1="710.2" x2="758.4" y2="710.2" stroke="#161616" stroke-width="1.3"/>
<line x1="755.2" y1="707" x2="755.2" y2="713.4" stroke="#161616" stroke-width="1.3"/>
<line x1="750" y1="710.2" x2="746.6" y2="710.2" stroke="#161616" stroke-width="1.2" stroke-dasharray="1.4 1.1"/>
<line x1="755.2" y1="705" x2="755.2" y2="701.6" stroke="#161616" stroke-width="1.2" stroke-dasharray="1.4 1.1"/>
<line x1="760.4" y1="710.2" x2="763.8" y2="710.2" stroke="#161616" stroke-width="1.2" stroke-dasharray="1.4 1.1"/>
<line x1="755.2" y1="715.4" x2="755.2" y2="718.8" stroke="#161616" stroke-width="1.2" stroke-dasharray="1.4 1.1"/>
<circle cx="755.2" cy="1259.5" r="9.8" fill="none" stroke="#161616" stroke-width="1.7"/>
<line x1="734.2" y1="1259.5" x2="744.6" y2="1259.5" stroke="#161616" stroke-width="1.3"/>
<line x1="765.8" y1="1259.5" x2="776.2" y2="1259.5" stroke="#161616" stroke-width="1.3"/>
<line x1="752" y1="1259.5" x2="758.4" y2="1259.5" stroke="#161616" stroke-width="1.3"/>
<line x1="755.2" y1="1256.3" x2="755.2" y2="1262.7" stroke="#161616" stroke-width="1.3"/>
<line x1="750" y1="1259.5" x2="746.6" y2="1259.5" stroke="#161616" stroke-width="1.2" stroke-dasharray="1.4 1.1"/>
<line x1="755.2" y1="1254.3" x2="755.2" y2="1250.9" stroke="#161616" stroke-width="1.2" stroke-dasharray="1.4 1.1"/>
<line x1="760.4" y1="1259.5" x2="763.8" y2="1259.5" stroke="#161616" stroke-width="1.2" stroke-dasharray="1.4 1.1"/>
<line x1="755.2" y1="1264.7" x2="755.2" y2="1268.1" stroke="#161616" stroke-width="1.2" stroke-dasharray="1.4 1.1"/>
<circle cx="755.2" cy="1213.8" r="9.8" fill="none" stroke="#161616" stroke-width="1.7"/>
<line x1="734.2" y1="1213.8" x2="744.6" y2="1213.8" stroke="#161616" stroke-width="1.3"/>
<line x1="765.8" y1="1213.8" x2="776.2" y2="1213.8" stroke="#161616" stroke-width="1.3"/>
<line x1="752" y1="1213.8" x2="758.4" y2="1213.8" stroke="#161616" stroke-width="1.3"/>
<line x1="755.2" y1="1210.6" x2="755.2" y2="1217" stroke="#161616" stroke-width="1.3"/>
<line x1="750" y1="1213.8" x2="746.6" y2="1213.8" stroke="#161616" stroke-width="1.2" stroke-dasharray="1.4 1.1"/>
<line x1="755.2" y1="1208.6" x2="755.2" y2="1205.2" stroke="#161616" stroke-width="1.2" stroke-dasharray="1.4 1.1"/>
<line x1="760.4" y1="1213.8" x2="763.8" y2="1213.8" stroke="#161616" stroke-width="1.2" stroke-dasharray="1.4 1.1"/>
<line x1="755.2" y1="1219" x2="755.2" y2="1222.4" stroke="#161616" stroke-width="1.2" stroke-dasharray="1.4 1.1"/>
<line x1="755.2" y1="643" x2="755.2" y2="653.7" stroke="#161616" stroke-width="1.3"/>
<line x1="755.2" y1="1270.3" x2="755.2" y2="1281" stroke="#161616" stroke-width="1.3"/>
<line x1="755.2" y1="676.4" x2="755.2" y2="699.1" stroke="#161616" stroke-width="1.3"/>
<line x1="755.2" y1="1224.9" x2="755.2" y2="1247.6" stroke="#161616" stroke-width="1.3"/>
<line x1="755.2" y1="721.8" x2="755.2" y2="732.2" stroke="#161616" stroke-width="1.3"/>
<line x1="755.2" y1="1191.8" x2="755.2" y2="1202.2" stroke="#161616" stroke-width="1.3"/>
<circle cx="835.6" cy="664.5" r="9.8" fill="none" stroke="#161616" stroke-width="1.7"/>
<line x1="814.6" y1="664.5" x2="825" y2="664.5" stroke="#161616" stroke-width="1.3"/>
<line x1="846.2" y1="664.5" x2="856.6" y2="664.5" stroke="#161616" stroke-width="1.3"/>
<line x1="832.4" y1="664.5" x2="838.8" y2="664.5" stroke="#161616" stroke-width="1.3"/>
<line x1="835.6" y1="661.3" x2="835.6" y2="667.7" stroke="#161616" stroke-width="1.3"/>
<line x1="830.4" y1="664.5" x2="827" y2="664.5" stroke="#161616" stroke-width="1.2" stroke-dasharray="1.4 1.1"/>
<line x1="835.6" y1="659.3" x2="835.6" y2="655.9" stroke="#161616" stroke-width="1.2" stroke-dasharray="1.4 1.1"/>
<line x1="840.8" y1="664.5" x2="844.2" y2="664.5" stroke="#161616" stroke-width="1.2" stroke-dasharray="1.4 1.1"/>
<line x1="835.6" y1="669.7" x2="835.6" y2="673.1" stroke="#161616" stroke-width="1.2" stroke-dasharray="1.4 1.1"/>
<circle cx="835.6" cy="710.2" r="9.8" fill="none" stroke="#161616" stroke-width="1.7"/>
<line x1="814.6" y1="710.2" x2="825" y2="710.2" stroke="#161616" stroke-width="1.3"/>
<line x1="846.2" y1="710.2" x2="856.6" y2="710.2" stroke="#161616" stroke-width="1.3"/>
<line x1="832.4" y1="710.2" x2="838.8" y2="710.2" stroke="#161616" stroke-width="1.3"/>
<line x1="835.6" y1="707" x2="835.6" y2="713.4" stroke="#161616" stroke-width="1.3"/>
<line x1="830.4" y1="710.2" x2="827" y2="710.2" stroke="#161616" stroke-width="1.2" stroke-dasharray="1.4 1.1"/>
<line x1="835.6" y1="705" x2="835.6" y2="701.6" stroke="#161616" stroke-width="1.2" stroke-dasharray="1.4 1.1"/>
<line x1="840.8" y1="710.2" x2="844.2" y2="710.2" stroke="#161616" stroke-width="1.2" stroke-dasharray="1.4 1.1"/>
<line x1="835.6" y1="715.4" x2="835.6" y2="718.8" stroke="#161616" stroke-width="1.2" stroke-dasharray="1.4 1.1"/>
<circle cx="835.6" cy="1259.5" r="9.8" fill="none" stroke="#161616" stroke-width="1.7"/>
<line x1="814.6" y1="1259.5" x2="825" y2="1259.5" stroke="#161616" stroke-width="1.3"/>
<line x1="846.2" y1="1259.5" x2="856.6" y2="1259.5" stroke="#161616" stroke-width="1.3"/>
<line x1="832.4" y1="1259.5" x2="838.8" y2="1259.5" stroke="#161616" stroke-width="1.3"/>
<line x1="835.6" y1="1256.3" x2="835.6" y2="1262.7" stroke="#161616" stroke-width="1.3"/>
<line x1="830.4" y1="1259.5" x2="827" y2="1259.5" stroke="#161616" stroke-width="1.2" stroke-dasharray="1.4 1.1"/>
<line x1="835.6" y1="1254.3" x2="835.6" y2="1250.9" stroke="#161616" stroke-width="1.2" stroke-dasharray="1.4 1.1"/>
<line x1="840.8" y1="1259.5" x2="844.2" y2="1259.5" stroke="#161616" stroke-width="1.2" stroke-dasharray="1.4 1.1"/>
<line x1="835.6" y1="1264.7" x2="835.6" y2="1268.1" stroke="#161616" stroke-width="1.2" stroke-dasharray="1.4 1.1"/>
<circle cx="835.6" cy="1213.8" r="9.8" fill="none" stroke="#161616" stroke-width="1.7"/>
<line x1="814.6" y1="1213.8" x2="825" y2="1213.8" stroke="#161616" stroke-width="1.3"/>
<line x1="846.2" y1="1213.8" x2="856.6" y2="1213.8" stroke="#161616" stroke-width="1.3"/>
<line x1="832.4" y1="1213.8" x2="838.8" y2="1213.8" stroke="#161616" stroke-width="1.3"/>
<line x1="835.6" y1="1210.6" x2="835.6" y2="1217" stroke="#161616" stroke-width="1.3"/>
<line x1="830.4" y1="1213.8" x2="827" y2="1213.8" stroke="#161616" stroke-width="1.2" stroke-dasharray="1.4 1.1"/>
<line x1="835.6" y1="1208.6" x2="835.6" y2="1205.2" stroke="#161616" stroke-width="1.2" stroke-dasharray="1.4 1.1"/>
<line x1="840.8" y1="1213.8" x2="844.2" y2="1213.8" stroke="#161616" stroke-width="1.2" stroke-dasharray="1.4 1.1"/>
<line x1="835.6" y1="1219" x2="835.6" y2="1222.4" stroke="#161616" stroke-width="1.2" stroke-dasharray="1.4 1.1"/>
<line x1="835.6" y1="643" x2="835.6" y2="653.7" stroke="#161616" stroke-width="1.3"/>
<line x1="835.6" y1="1270.3" x2="835.6" y2="1281" stroke="#161616" stroke-width="1.3"/>
<line x1="835.6" y1="676.4" x2="835.6" y2="699.1" stroke="#161616" stroke-width="1.3"/>
<line x1="835.6" y1="1224.9" x2="835.6" y2="1247.6" stroke="#161616" stroke-width="1.3"/>
<line x1="835.6" y1="721.8" x2="835.6" y2="732.2" stroke="#161616" stroke-width="1.3"/>
<line x1="835.6" y1="1191.8" x2="835.6" y2="1202.2" stroke="#161616" stroke-width="1.3"/>
<circle cx="914.8" cy="664.5" r="9.8" fill="none" stroke="#161616" stroke-width="1.7"/>
<line x1="893.8" y1="664.5" x2="904.2" y2="664.5" stroke="#161616" stroke-width="1.3"/>
<line x1="925.4" y1="664.5" x2="935.8" y2="664.5" stroke="#161616" stroke-width="1.3"/>
<line x1="911.6" y1="664.5" x2="918" y2="664.5" stroke="#161616" stroke-width="1.3"/>
<line x1="914.8" y1="661.3" x2="914.8" y2="667.7" stroke="#161616" stroke-width="1.3"/>
<line x1="909.6" y1="664.5" x2="906.2" y2="664.5" stroke="#161616" stroke-width="1.2" stroke-dasharray="1.4 1.1"/>
<line x1="914.8" y1="659.3" x2="914.8" y2="655.9" stroke="#161616" stroke-width="1.2" stroke-dasharray="1.4 1.1"/>
<line x1="920" y1="664.5" x2="923.4" y2="664.5" stroke="#161616" stroke-width="1.2" stroke-dasharray="1.4 1.1"/>
<line x1="914.8" y1="669.7" x2="914.8" y2="673.1" stroke="#161616" stroke-width="1.2" stroke-dasharray="1.4 1.1"/>
<circle cx="914.8" cy="710.2" r="9.8" fill="none" stroke="#161616" stroke-width="1.7"/>
<line x1="893.8" y1="710.2" x2="904.2" y2="710.2" stroke="#161616" stroke-width="1.3"/>
<line x1="925.4" y1="710.2" x2="935.8" y2="710.2" stroke="#161616" stroke-width="1.3"/>
<line x1="911.6" y1="710.2" x2="918" y2="710.2" stroke="#161616" stroke-width="1.3"/>
<line x1="914.8" y1="707" x2="914.8" y2="713.4" stroke="#161616" stroke-width="1.3"/>
<line x1="909.6" y1="710.2" x2="906.2" y2="710.2" stroke="#161616" stroke-width="1.2" stroke-dasharray="1.4 1.1"/>
<line x1="914.8" y1="705" x2="914.8" y2="701.6" stroke="#161616" stroke-width="1.2" stroke-dasharray="1.4 1.1"/>
<line x1="920" y1="710.2" x2="923.4" y2="710.2" stroke="#161616" stroke-width="1.2" stroke-dasharray="1.4 1.1"/>
<line x1="914.8" y1="715.4" x2="914.8" y2="718.8" stroke="#161616" stroke-width="1.2" stroke-dasharray="1.4 1.1"/>
<circle cx="914.8" cy="1259.5" r="9.8" fill="none" stroke="#161616" stroke-width="1.7"/>
<line x1="893.8" y1="1259.5" x2="904.2" y2="1259.5" stroke="#161616" stroke-width="1.3"/>
<line x1="925.4" y1="1259.5" x2="935.8" y2="1259.5" stroke="#161616" stroke-width="1.3"/>
<line x1="911.6" y1="1259.5" x2="918" y2="1259.5" stroke="#161616" stroke-width="1.3"/>
<line x1="914.8" y1="1256.3" x2="914.8" y2="1262.7" stroke="#161616" stroke-width="1.3"/>
<line x1="909.6" y1="1259.5" x2="906.2" y2="1259.5" stroke="#161616" stroke-width="1.2" stroke-dasharray="1.4 1.1"/>
<line x1="914.8" y1="1254.3" x2="914.8" y2="1250.9" stroke="#161616" stroke-width="1.2" stroke-dasharray="1.4 1.1"/>
<line x1="920" y1="1259.5" x2="923.4" y2="1259.5" stroke="#161616" stroke-width="1.2" stroke-dasharray="1.4 1.1"/>
<line x1="914.8" y1="1264.7" x2="914.8" y2="1268.1" stroke="#161616" stroke-width="1.2" stroke-dasharray="1.4 1.1"/>
<circle cx="914.8" cy="1213.8" r="9.8" fill="none" stroke="#161616" stroke-width="1.7"/>
<line x1="893.8" y1="1213.8" x2="904.2" y2="1213.8" stroke="#161616" stroke-width="1.3"/>
<line x1="925.4" y1="1213.8" x2="935.8" y2="1213.8" stroke="#161616" stroke-width="1.3"/>
<line x1="911.6" y1="1213.8" x2="918" y2="1213.8" stroke="#161616" stroke-width="1.3"/>
<line x1="914.8" y1="1210.6" x2="914.8" y2="1217" stroke="#161616" stroke-width="1.3"/>
<line x1="909.6" y1="1213.8" x2="906.2" y2="1213.8" stroke="#161616" stroke-width="1.2" stroke-dasharray="1.4 1.1"/>
<line x1="914.8" y1="1208.6" x2="914.8" y2="1205.2" stroke="#161616" stroke-width="1.2" stroke-dasharray="1.4 1.1"/>
<line x1="920" y1="1213.8" x2="923.4" y2="1213.8" stroke="#161616" stroke-width="1.2" stroke-dasharray="1.4 1.1"/>
<line x1="914.8" y1="1219" x2="914.8" y2="1222.4" stroke="#161616" stroke-width="1.2" stroke-dasharray="1.4 1.1"/>
<line x1="914.8" y1="643" x2="914.8" y2="653.7" stroke="#161616" stroke-width="1.3"/>
<line x1="914.8" y1="1270.3" x2="914.8" y2="1281" stroke="#161616" stroke-width="1.3"/>
<line x1="914.8" y1="676.4" x2="914.8" y2="699.1" stroke="#161616" stroke-width="1.3"/>
<line x1="914.8" y1="1224.9" x2="914.8" y2="1247.6" stroke="#161616" stroke-width="1.3"/>
<line x1="914.8" y1="721.8" x2="914.8" y2="732.2" stroke="#161616" stroke-width="1.3"/>
<line x1="914.8" y1="1191.8" x2="914.8" y2="1202.2" stroke="#161616" stroke-width="1.3"/>
<circle cx="995" cy="664.5" r="9.8" fill="none" stroke="#161616" stroke-width="1.7"/>
<line x1="974" y1="664.5" x2="984.4" y2="664.5" stroke="#161616" stroke-width="1.3"/>
<line x1="1005.6" y1="664.5" x2="1016" y2="664.5" stroke="#161616" stroke-width="1.3"/>
<line x1="991.8" y1="664.5" x2="998.2" y2="664.5" stroke="#161616" stroke-width="1.3"/>
<line x1="995" y1="661.3" x2="995" y2="667.7" stroke="#161616" stroke-width="1.3"/>
<line x1="989.8" y1="664.5" x2="986.4" y2="664.5" stroke="#161616" stroke-width="1.2" stroke-dasharray="1.4 1.1"/>
<line x1="995" y1="659.3" x2="995" y2="655.9" stroke="#161616" stroke-width="1.2" stroke-dasharray="1.4 1.1"/>
<line x1="1000.2" y1="664.5" x2="1003.6" y2="664.5" stroke="#161616" stroke-width="1.2" stroke-dasharray="1.4 1.1"/>
<line x1="995" y1="669.7" x2="995" y2="673.1" stroke="#161616" stroke-width="1.2" stroke-dasharray="1.4 1.1"/>
<circle cx="995" cy="710.2" r="9.8" fill="none" stroke="#161616" stroke-width="1.7"/>
<line x1="974" y1="710.2" x2="984.4" y2="710.2" stroke="#161616" stroke-width="1.3"/>
<line x1="1005.6" y1="710.2" x2="1016" y2="710.2" stroke="#161616" stroke-width="1.3"/>
<line x1="991.8" y1="710.2" x2="998.2" y2="710.2" stroke="#161616" stroke-width="1.3"/>
<line x1="995" y1="707" x2="995" y2="713.4" stroke="#161616" stroke-width="1.3"/>
<line x1="989.8" y1="710.2" x2="986.4" y2="710.2" stroke="#161616" stroke-width="1.2" stroke-dasharray="1.4 1.1"/>
<line x1="995" y1="705" x2="995" y2="701.6" stroke="#161616" stroke-width="1.2" stroke-dasharray="1.4 1.1"/>
<line x1="1000.2" y1="710.2" x2="1003.6" y2="710.2" stroke="#161616" stroke-width="1.2" stroke-dasharray="1.4 1.1"/>
<line x1="995" y1="715.4" x2="995" y2="718.8" stroke="#161616" stroke-width="1.2" stroke-dasharray="1.4 1.1"/>
<circle cx="995" cy="1259.5" r="9.8" fill="none" stroke="#161616" stroke-width="1.7"/>
<line x1="974" y1="1259.5" x2="984.4" y2="1259.5" stroke="#161616" stroke-width="1.3"/>
<line x1="1005.6" y1="1259.5" x2="1016" y2="1259.5" stroke="#161616" stroke-width="1.3"/>
<line x1="991.8" y1="1259.5" x2="998.2" y2="1259.5" stroke="#161616" stroke-width="1.3"/>
<line x1="995" y1="1256.3" x2="995" y2="1262.7" stroke="#161616" stroke-width="1.3"/>
<line x1="989.8" y1="1259.5" x2="986.4" y2="1259.5" stroke="#161616" stroke-width="1.2" stroke-dasharray="1.4 1.1"/>
<line x1="995" y1="1254.3" x2="995" y2="1250.9" stroke="#161616" stroke-width="1.2" stroke-dasharray="1.4 1.1"/>
<line x1="1000.2" y1="1259.5" x2="1003.6" y2="1259.5" stroke="#161616" stroke-width="1.2" stroke-dasharray="1.4 1.1"/>
<line x1="995" y1="1264.7" x2="995" y2="1268.1" stroke="#161616" stroke-width="1.2" stroke-dasharray="1.4 1.1"/>
<circle cx="995" cy="1213.8" r="9.8" fill="none" stroke="#161616" stroke-width="1.7"/>
<line x1="974" y1="1213.8" x2="984.4" y2="1213.8" stroke="#161616" stroke-width="1.3"/>
<line x1="1005.6" y1="1213.8" x2="1016" y2="1213.8" stroke="#161616" stroke-width="1.3"/>
<line x1="991.8" y1="1213.8" x2="998.2" y2="1213.8" stroke="#161616" stroke-width="1.3"/>
<line x1="995" y1="1210.6" x2="995" y2="1217" stroke="#161616" stroke-width="1.3"/>
<line x1="989.8" y1="1213.8" x2="986.4" y2="1213.8" stroke="#161616" stroke-width="1.2" stroke-dasharray="1.4 1.1"/>
<line x1="995" y1="1208.6" x2="995" y2="1205.2" stroke="#161616" stroke-width="1.2" stroke-dasharray="1.4 1.1"/>
<line x1="1000.2" y1="1213.8" x2="1003.6" y2="1213.8" stroke="#161616" stroke-width="1.2" stroke-dasharray="1.4 1.1"/>
<line x1="995" y1="1219" x2="995" y2="1222.4" stroke="#161616" stroke-width="1.2" stroke-dasharray="1.4 1.1"/>
<line x1="995" y1="643" x2="995" y2="653.7" stroke="#161616" stroke-width="1.3"/>
<line x1="995" y1="1270.3" x2="995" y2="1281" stroke="#161616" stroke-width="1.3"/>
<line x1="995" y1="676.4" x2="995" y2="699.1" stroke="#161616" stroke-width="1.3"/>
<line x1="995" y1="1224.9" x2="995" y2="1247.6" stroke="#161616" stroke-width="1.3"/>
<line x1="995" y1="721.8" x2="995" y2="732.2" stroke="#161616" stroke-width="1.3"/>
<line x1="995" y1="1191.8" x2="995" y2="1202.2" stroke="#161616" stroke-width="1.3"/>
<line x1="761.35" y1="765.8" x2="761.35" y2="790.3" stroke="#161616" stroke-width="1.6"/>
<line x1="787.35" y1="765.8" x2="787.35" y2="790.3" stroke="#161616" stroke-width="1.6"/>
<path d="M762.4 780.0 A14.6 14.6 0 0 1 786.4 780.0" fill="none" stroke="#161616" stroke-width="1.5" stroke-linejoin="round"/>
<circle cx="774.35" cy="788.3" r="11.7" fill="none" stroke="#161616" stroke-width="2.1"/>
<circle cx="774.35" cy="788.3" r="6" fill="none" stroke="#161616" stroke-width="1.6"/>
<line x1="771.35" y1="788.3" x2="777.35" y2="788.3" stroke="#161616" stroke-width="1.4"/>
<line x1="774.35" y1="785.3" x2="774.35" y2="791.3" stroke="#161616" stroke-width="1.4"/>
<line x1="753.35" y1="788.3" x2="761.35" y2="788.3" stroke="#161616" stroke-width="1.4"/>
<line x1="787.35" y1="788.3" x2="795.35" y2="788.3" stroke="#161616" stroke-width="1.4"/>
<line x1="774.35" y1="770.3" x2="774.35" y2="775.8" stroke="#161616" stroke-width="1.4"/>
<line x1="774.35" y1="800.8" x2="774.35" y2="809.3" stroke="#161616" stroke-width="1.4"/>
<line x1="761.35" y1="1158.2" x2="761.35" y2="1133.7" stroke="#161616" stroke-width="1.6"/>
<line x1="787.35" y1="1158.2" x2="787.35" y2="1133.7" stroke="#161616" stroke-width="1.6"/>
<path d="M762.4 1144.0 A14.6 14.6 0 0 0 786.4 1144.0" fill="none" stroke="#161616" stroke-width="1.5" stroke-linejoin="round"/>
<circle cx="774.35" cy="1135.7" r="11.7" fill="none" stroke="#161616" stroke-width="2.1"/>
<circle cx="774.35" cy="1135.7" r="6" fill="none" stroke="#161616" stroke-width="1.6"/>
<line x1="771.35" y1="1135.7" x2="777.35" y2="1135.7" stroke="#161616" stroke-width="1.4"/>
<line x1="774.35" y1="1132.7" x2="774.35" y2="1138.7" stroke="#161616" stroke-width="1.4"/>
<line x1="753.35" y1="1135.7" x2="761.35" y2="1135.7" stroke="#161616" stroke-width="1.4"/>
<line x1="787.35" y1="1135.7" x2="795.35" y2="1135.7" stroke="#161616" stroke-width="1.4"/>
<line x1="774.35" y1="1117.7" x2="774.35" y2="1123.2" stroke="#161616" stroke-width="1.4"/>
<line x1="774.35" y1="1148.2" x2="774.35" y2="1156.7" stroke="#161616" stroke-width="1.4"/>
<line x1="828.45" y1="765.8" x2="828.45" y2="790.3" stroke="#161616" stroke-width="1.6"/>
<line x1="854.45" y1="765.8" x2="854.45" y2="790.3" stroke="#161616" stroke-width="1.6"/>
<path d="M829.5 780.0 A14.6 14.6 0 0 1 853.5 780.0" fill="none" stroke="#161616" stroke-width="1.5" stroke-linejoin="round"/>
<circle cx="841.45" cy="788.3" r="11.7" fill="none" stroke="#161616" stroke-width="2.1"/>
<circle cx="841.45" cy="788.3" r="6" fill="none" stroke="#161616" stroke-width="1.6"/>
<line x1="838.45" y1="788.3" x2="844.45" y2="788.3" stroke="#161616" stroke-width="1.4"/>
<line x1="841.45" y1="785.3" x2="841.45" y2="791.3" stroke="#161616" stroke-width="1.4"/>
<line x1="820.45" y1="788.3" x2="828.45" y2="788.3" stroke="#161616" stroke-width="1.4"/>
<line x1="854.45" y1="788.3" x2="862.45" y2="788.3" stroke="#161616" stroke-width="1.4"/>
<line x1="841.45" y1="770.3" x2="841.45" y2="775.8" stroke="#161616" stroke-width="1.4"/>
<line x1="841.45" y1="800.8" x2="841.45" y2="809.3" stroke="#161616" stroke-width="1.4"/>
<line x1="828.45" y1="1158.2" x2="828.45" y2="1133.7" stroke="#161616" stroke-width="1.6"/>
<line x1="854.45" y1="1158.2" x2="854.45" y2="1133.7" stroke="#161616" stroke-width="1.6"/>
<path d="M829.5 1144.0 A14.6 14.6 0 0 0 853.5 1144.0" fill="none" stroke="#161616" stroke-width="1.5" stroke-linejoin="round"/>
<circle cx="841.45" cy="1135.7" r="11.7" fill="none" stroke="#161616" stroke-width="2.1"/>
<circle cx="841.45" cy="1135.7" r="6" fill="none" stroke="#161616" stroke-width="1.6"/>
<line x1="838.45" y1="1135.7" x2="844.45" y2="1135.7" stroke="#161616" stroke-width="1.4"/>
<line x1="841.45" y1="1132.7" x2="841.45" y2="1138.7" stroke="#161616" stroke-width="1.4"/>
<line x1="820.45" y1="1135.7" x2="828.45" y2="1135.7" stroke="#161616" stroke-width="1.4"/>
<line x1="854.45" y1="1135.7" x2="862.45" y2="1135.7" stroke="#161616" stroke-width="1.4"/>
<line x1="841.45" y1="1117.7" x2="841.45" y2="1123.2" stroke="#161616" stroke-width="1.4"/>
<line x1="841.45" y1="1148.2" x2="841.45" y2="1156.7" stroke="#161616" stroke-width="1.4"/>
<line x1="895.55" y1="765.8" x2="895.55" y2="790.3" stroke="#161616" stroke-width="1.6"/>
<line x1="921.55" y1="765.8" x2="921.55" y2="790.3" stroke="#161616" stroke-width="1.6"/>
<path d="M896.5 780.0 A14.6 14.6 0 0 1 920.5 780.0" fill="none" stroke="#161616" stroke-width="1.5" stroke-linejoin="round"/>
<circle cx="908.55" cy="788.3" r="11.7" fill="none" stroke="#161616" stroke-width="2.1"/>
<circle cx="908.55" cy="788.3" r="6" fill="none" stroke="#161616" stroke-width="1.6"/>
<line x1="905.55" y1="788.3" x2="911.55" y2="788.3" stroke="#161616" stroke-width="1.4"/>
<line x1="908.55" y1="785.3" x2="908.55" y2="791.3" stroke="#161616" stroke-width="1.4"/>
<line x1="887.55" y1="788.3" x2="895.55" y2="788.3" stroke="#161616" stroke-width="1.4"/>
<line x1="921.55" y1="788.3" x2="929.55" y2="788.3" stroke="#161616" stroke-width="1.4"/>
<line x1="908.55" y1="770.3" x2="908.55" y2="775.8" stroke="#161616" stroke-width="1.4"/>
<line x1="908.55" y1="800.8" x2="908.55" y2="809.3" stroke="#161616" stroke-width="1.4"/>
<line x1="895.55" y1="1158.2" x2="895.55" y2="1133.7" stroke="#161616" stroke-width="1.6"/>
<line x1="921.55" y1="1158.2" x2="921.55" y2="1133.7" stroke="#161616" stroke-width="1.6"/>
<path d="M896.5 1144.0 A14.6 14.6 0 0 0 920.5 1144.0" fill="none" stroke="#161616" stroke-width="1.5" stroke-linejoin="round"/>
<circle cx="908.55" cy="1135.7" r="11.7" fill="none" stroke="#161616" stroke-width="2.1"/>
<circle cx="908.55" cy="1135.7" r="6" fill="none" stroke="#161616" stroke-width="1.6"/>
<line x1="905.55" y1="1135.7" x2="911.55" y2="1135.7" stroke="#161616" stroke-width="1.4"/>
<line x1="908.55" y1="1132.7" x2="908.55" y2="1138.7" stroke="#161616" stroke-width="1.4"/>
<line x1="887.55" y1="1135.7" x2="895.55" y2="1135.7" stroke="#161616" stroke-width="1.4"/>
<line x1="921.55" y1="1135.7" x2="929.55" y2="1135.7" stroke="#161616" stroke-width="1.4"/>
<line x1="908.55" y1="1117.7" x2="908.55" y2="1123.2" stroke="#161616" stroke-width="1.4"/>
<line x1="908.55" y1="1148.2" x2="908.55" y2="1156.7" stroke="#161616" stroke-width="1.4"/>
<line x1="962.65" y1="765.8" x2="962.65" y2="790.3" stroke="#161616" stroke-width="1.6"/>
<line x1="988.65" y1="765.8" x2="988.65" y2="790.3" stroke="#161616" stroke-width="1.6"/>
<path d="M963.6 780.0 A14.6 14.6 0 0 1 987.6 780.0" fill="none" stroke="#161616" stroke-width="1.5" stroke-linejoin="round"/>
<circle cx="975.65" cy="788.3" r="11.7" fill="none" stroke="#161616" stroke-width="2.1"/>
<circle cx="975.65" cy="788.3" r="6" fill="none" stroke="#161616" stroke-width="1.6"/>
<line x1="972.65" y1="788.3" x2="978.65" y2="788.3" stroke="#161616" stroke-width="1.4"/>
<line x1="975.65" y1="785.3" x2="975.65" y2="791.3" stroke="#161616" stroke-width="1.4"/>
<line x1="954.65" y1="788.3" x2="962.65" y2="788.3" stroke="#161616" stroke-width="1.4"/>
<line x1="988.65" y1="788.3" x2="996.65" y2="788.3" stroke="#161616" stroke-width="1.4"/>
<line x1="975.65" y1="770.3" x2="975.65" y2="775.8" stroke="#161616" stroke-width="1.4"/>
<line x1="975.65" y1="800.8" x2="975.65" y2="809.3" stroke="#161616" stroke-width="1.4"/>
<line x1="962.65" y1="1158.2" x2="962.65" y2="1133.7" stroke="#161616" stroke-width="1.6"/>
<line x1="988.65" y1="1158.2" x2="988.65" y2="1133.7" stroke="#161616" stroke-width="1.6"/>
<path d="M963.6 1144.0 A14.6 14.6 0 0 0 987.6 1144.0" fill="none" stroke="#161616" stroke-width="1.5" stroke-linejoin="round"/>
<circle cx="975.65" cy="1135.7" r="11.7" fill="none" stroke="#161616" stroke-width="2.1"/>
<circle cx="975.65" cy="1135.7" r="6" fill="none" stroke="#161616" stroke-width="1.6"/>
<line x1="972.65" y1="1135.7" x2="978.65" y2="1135.7" stroke="#161616" stroke-width="1.4"/>
<line x1="975.65" y1="1132.7" x2="975.65" y2="1138.7" stroke="#161616" stroke-width="1.4"/>
<line x1="954.65" y1="1135.7" x2="962.65" y2="1135.7" stroke="#161616" stroke-width="1.4"/>
<line x1="988.65" y1="1135.7" x2="996.65" y2="1135.7" stroke="#161616" stroke-width="1.4"/>
<line x1="975.65" y1="1117.7" x2="975.65" y2="1123.2" stroke="#161616" stroke-width="1.4"/>
<line x1="975.65" y1="1148.2" x2="975.65" y2="1156.7" stroke="#161616" stroke-width="1.4"/>
<circle cx="774.35" cy="818.2" r="5.6" fill="none" stroke="#161616" stroke-width="2"/>
<circle cx="774.35" cy="818.2" r="2.6" fill="#666" stroke="#161616" stroke-width="1.3"/>
<line x1="766.35" y1="818.2" x2="769.35" y2="818.2" stroke="#161616" stroke-width="1.2"/>
<line x1="779.35" y1="818.2" x2="782.35" y2="818.2" stroke="#161616" stroke-width="1.2"/>
<line x1="774.35" y1="810.2" x2="774.35" y2="813.2" stroke="#161616" stroke-width="1.2"/>
<line x1="774.35" y1="823.2" x2="774.35" y2="826.2" stroke="#161616" stroke-width="1.2"/>
<circle cx="908.55" cy="818.2" r="5.6" fill="none" stroke="#161616" stroke-width="2"/>
<circle cx="908.55" cy="818.2" r="2.6" fill="#666" stroke="#161616" stroke-width="1.3"/>
<line x1="900.55" y1="818.2" x2="903.55" y2="818.2" stroke="#161616" stroke-width="1.2"/>
<line x1="913.55" y1="818.2" x2="916.55" y2="818.2" stroke="#161616" stroke-width="1.2"/>
<line x1="908.55" y1="810.2" x2="908.55" y2="813.2" stroke="#161616" stroke-width="1.2"/>
<line x1="908.55" y1="823.2" x2="908.55" y2="826.2" stroke="#161616" stroke-width="1.2"/>
<circle cx="975.65" cy="818.2" r="5.6" fill="none" stroke="#161616" stroke-width="2"/>
<circle cx="975.65" cy="818.2" r="2.6" fill="#666" stroke="#161616" stroke-width="1.3"/>
<line x1="967.65" y1="818.2" x2="970.65" y2="818.2" stroke="#161616" stroke-width="1.2"/>
<line x1="980.65" y1="818.2" x2="983.65" y2="818.2" stroke="#161616" stroke-width="1.2"/>
<line x1="975.65" y1="810.2" x2="975.65" y2="813.2" stroke="#161616" stroke-width="1.2"/>
<line x1="975.65" y1="823.2" x2="975.65" y2="826.2" stroke="#161616" stroke-width="1.2"/>
<rect x="800.1" y="787.2" width="15.6" height="30.9" rx="7.8" fill="none" stroke="#161616" stroke-width="1.9"/>
<circle cx="807.9" cy="795" r="5.6" fill="none" stroke="#161616" stroke-width="1.7"/>
<path d="M804.5 795 L807.9 791.6 L811.3 795 L807.9 798.4 Z" fill="#161616" stroke="#161616" stroke-width="0.5" stroke-linejoin="miter"/>
<line x1="799.4" y1="795" x2="816.4" y2="795" stroke="#161616" stroke-width="1"/>
<line x1="807.9" y1="786.5" x2="807.9" y2="803.5" stroke="#161616" stroke-width="1"/>
<circle cx="807.9" cy="810.3" r="5.6" fill="none" stroke="#161616" stroke-width="1.7"/>
<circle cx="807.9" cy="810.3" r="2.9" fill="none" stroke="#161616" stroke-width="1.2"/>
<circle cx="807.9" cy="810.3" r="0.8" fill="#161616" stroke="#161616" stroke-width="0.8"/>
<rect x="800.1" y="1105.9" width="15.6" height="30.9" rx="7.8" fill="none" stroke="#161616" stroke-width="1.9"/>
<circle cx="807.9" cy="1129" r="5.6" fill="none" stroke="#161616" stroke-width="1.7"/>
<path d="M804.5 1129 L807.9 1125.6 L811.3 1129 L807.9 1132.4 Z" fill="#161616" stroke="#161616" stroke-width="0.5" stroke-linejoin="miter"/>
<line x1="799.4" y1="1129" x2="816.4" y2="1129" stroke="#161616" stroke-width="1"/>
<line x1="807.9" y1="1120.5" x2="807.9" y2="1137.5" stroke="#161616" stroke-width="1"/>
<circle cx="807.9" cy="1113.7" r="5.6" fill="none" stroke="#161616" stroke-width="1.7"/>
<circle cx="807.9" cy="1113.7" r="2.9" fill="none" stroke="#161616" stroke-width="1.2"/>
<circle cx="807.9" cy="1113.7" r="0.8" fill="#161616" stroke="#161616" stroke-width="0.8"/>
<rect x="867.2" y="787.2" width="15.6" height="30.9" rx="7.8" fill="none" stroke="#161616" stroke-width="1.9"/>
<circle cx="875" cy="795" r="5.6" fill="none" stroke="#161616" stroke-width="1.7"/>
<path d="M871.6 795 L875 791.6 L878.4 795 L875 798.4 Z" fill="#161616" stroke="#161616" stroke-width="0.5" stroke-linejoin="miter"/>
<line x1="866.5" y1="795" x2="883.5" y2="795" stroke="#161616" stroke-width="1"/>
<line x1="875" y1="786.5" x2="875" y2="803.5" stroke="#161616" stroke-width="1"/>
<circle cx="875" cy="810.3" r="5.6" fill="none" stroke="#161616" stroke-width="1.7"/>
<circle cx="875" cy="810.3" r="2.9" fill="none" stroke="#161616" stroke-width="1.2"/>
<circle cx="875" cy="810.3" r="0.8" fill="#161616" stroke="#161616" stroke-width="0.8"/>
<rect x="867.2" y="1105.9" width="15.6" height="30.9" rx="7.8" fill="none" stroke="#161616" stroke-width="1.9"/>
<circle cx="875" cy="1129" r="5.6" fill="none" stroke="#161616" stroke-width="1.7"/>
<path d="M871.6 1129 L875 1125.6 L878.4 1129 L875 1132.4 Z" fill="#161616" stroke="#161616" stroke-width="0.5" stroke-linejoin="miter"/>
<line x1="866.5" y1="1129" x2="883.5" y2="1129" stroke="#161616" stroke-width="1"/>
<line x1="875" y1="1120.5" x2="875" y2="1137.5" stroke="#161616" stroke-width="1"/>
<circle cx="875" cy="1113.7" r="5.6" fill="none" stroke="#161616" stroke-width="1.7"/>
<circle cx="875" cy="1113.7" r="2.9" fill="none" stroke="#161616" stroke-width="1.2"/>
<circle cx="875" cy="1113.7" r="0.8" fill="#161616" stroke="#161616" stroke-width="0.8"/>
<rect x="934.3" y="787.2" width="15.6" height="30.9" rx="7.8" fill="none" stroke="#161616" stroke-width="1.9"/>
<circle cx="942.1" cy="795" r="5.6" fill="none" stroke="#161616" stroke-width="1.7"/>
<path d="M938.7 795 L942.1 791.6 L945.5 795 L942.1 798.4 Z" fill="#161616" stroke="#161616" stroke-width="0.5" stroke-linejoin="miter"/>
<line x1="933.6" y1="795" x2="950.6" y2="795" stroke="#161616" stroke-width="1"/>
<line x1="942.1" y1="786.5" x2="942.1" y2="803.5" stroke="#161616" stroke-width="1"/>
<circle cx="942.1" cy="810.3" r="5.6" fill="none" stroke="#161616" stroke-width="1.7"/>
<circle cx="942.1" cy="810.3" r="2.9" fill="none" stroke="#161616" stroke-width="1.2"/>
<circle cx="942.1" cy="810.3" r="0.8" fill="#161616" stroke="#161616" stroke-width="0.8"/>
<rect x="934.3" y="1105.9" width="15.6" height="30.9" rx="7.8" fill="none" stroke="#161616" stroke-width="1.9"/>
<circle cx="942.1" cy="1129" r="5.6" fill="none" stroke="#161616" stroke-width="1.7"/>
<path d="M938.7 1129 L942.1 1125.6 L945.5 1129 L942.1 1132.4 Z" fill="#161616" stroke="#161616" stroke-width="0.5" stroke-linejoin="miter"/>
<line x1="933.6" y1="1129" x2="950.6" y2="1129" stroke="#161616" stroke-width="1"/>
<line x1="942.1" y1="1120.5" x2="942.1" y2="1137.5" stroke="#161616" stroke-width="1"/>
<circle cx="942.1" cy="1113.7" r="5.6" fill="none" stroke="#161616" stroke-width="1.7"/>
<circle cx="942.1" cy="1113.7" r="2.9" fill="none" stroke="#161616" stroke-width="1.2"/>
<circle cx="942.1" cy="1113.7" r="0.8" fill="#161616" stroke="#161616" stroke-width="0.8"/>
<circle cx="753.75" cy="784" r="3.4" fill="none" stroke="#161616" stroke-width="2.3"/>
<circle cx="753.75" cy="1140" r="3.4" fill="none" stroke="#161616" stroke-width="2.3"/>
<circle cx="928.55" cy="784" r="3.4" fill="none" stroke="#161616" stroke-width="2.3"/>
<circle cx="928.55" cy="1140" r="3.4" fill="none" stroke="#161616" stroke-width="2.3"/>
<circle cx="995.65" cy="784" r="3.4" fill="none" stroke="#161616" stroke-width="2.3"/>
<circle cx="995.65" cy="1140" r="3.4" fill="none" stroke="#161616" stroke-width="2.3"/>
<circle cx="740.5" cy="803" r="6.6" fill="none" stroke="#161616" stroke-width="2"/>
<path d="M736.9 803 L740.5 799.4 L744.1 803 L740.5 806.6 Z" fill="#161616" stroke="#161616" stroke-width="0.5" stroke-linejoin="miter"/>
<line x1="732" y1="803" x2="749" y2="803" stroke="#161616" stroke-width="1.1"/>
<line x1="740.5" y1="794.5" x2="740.5" y2="811.5" stroke="#161616" stroke-width="1.1"/>
<circle cx="740.5" cy="1120.5" r="6.6" fill="none" stroke="#161616" stroke-width="2"/>
<path d="M736.9 1120.5 L740.5 1116.9 L744.1 1120.5 L740.5 1124.1 Z" fill="#161616" stroke="#161616" stroke-width="0.5" stroke-linejoin="miter"/>
<line x1="732" y1="1120.5" x2="749" y2="1120.5" stroke="#161616" stroke-width="1.1"/>
<line x1="740.5" y1="1112" x2="740.5" y2="1129" stroke="#161616" stroke-width="1.1"/>
<circle cx="1009.5" cy="803" r="6.6" fill="none" stroke="#161616" stroke-width="2"/>
<path d="M1005.9 803 L1009.5 799.4 L1013.1 803 L1009.5 806.6 Z" fill="#161616" stroke="#161616" stroke-width="0.5" stroke-linejoin="miter"/>
<line x1="1001" y1="803" x2="1018" y2="803" stroke="#161616" stroke-width="1.1"/>
<line x1="1009.5" y1="794.5" x2="1009.5" y2="811.5" stroke="#161616" stroke-width="1.1"/>
<circle cx="1009.5" cy="1120.5" r="6.6" fill="none" stroke="#161616" stroke-width="2"/>
<path d="M1005.9 1120.5 L1009.5 1116.9 L1013.1 1120.5 L1009.5 1124.1 Z" fill="#161616" stroke="#161616" stroke-width="0.5" stroke-linejoin="miter"/>
<line x1="1001" y1="1120.5" x2="1018" y2="1120.5" stroke="#161616" stroke-width="1.1"/>
<line x1="1009.5" y1="1112" x2="1009.5" y2="1129" stroke="#161616" stroke-width="1.1"/>
<path d="M806.0 986.6 A76.6 76.6 0 1 1 877.0 986.6" fill="none" stroke="#161616" stroke-width="1.5" stroke-linejoin="round"/>
<path d="M806.0 1017.0 L806.0 868.0 Q806.0 862.5 811.0 862.3 Q841.5 870.6 872.0 862.3 Q877.0 862.5 877.0 868.0 L877.0 1017.0 Q877.0 1021.5 872.0 1021.5 L811.0 1021.5 Q806.0 1021.5 806.0 1017.0 Z" fill="#e0e0e0" stroke="#161616" stroke-width="1.3" stroke-linejoin="round"/>
<rect x="819.95" y="876.8" width="43" height="94" rx="1.5" fill="none" stroke="#161616" stroke-width="2"/>
<line x1="820.45" y1="881.5" x2="862.45" y2="881.5" stroke="#161616" stroke-width="1.4"/>
<line x1="820.45" y1="966" x2="862.45" y2="966" stroke="#161616" stroke-width="1.4"/>
<line x1="821.85" y1="881.5" x2="821.85" y2="966" stroke="#161616" stroke-width="1"/>
<line x1="861.05" y1="881.5" x2="861.05" y2="966" stroke="#161616" stroke-width="1"/>
<rect x="822.75" y="910.5" width="37.4" height="18.3" rx="1" fill="none" stroke="#161616" stroke-width="1.6"/>
<line x1="821.45" y1="932.8" x2="861.45" y2="932.8" stroke="#161616" stroke-width="1.7"/>
<line x1="821.45" y1="911" x2="821.45" y2="932" stroke="#161616" stroke-width="2.4"/>
<line x1="861.45" y1="911" x2="861.45" y2="932" stroke="#161616" stroke-width="2.4"/>
<line x1="812.45" y1="921.6" x2="819.95" y2="921.6" stroke="#161616" stroke-width="2"/>
<line x1="862.95" y1="921.6" x2="870.45" y2="921.6" stroke="#161616" stroke-width="2"/>
<rect x="815.25" y="887" width="2" height="7" rx="1" fill="#222" stroke="#161616" stroke-width="1"/>
<circle cx="816.25" cy="953.3" r="2.8" fill="none" stroke="#2a2a2a" stroke-width="2"/>
<rect x="865.65" y="887" width="2" height="7" rx="1" fill="#222" stroke="#161616" stroke-width="1"/>
<circle cx="866.65" cy="953.3" r="2.8" fill="none" stroke="#2a2a2a" stroke-width="2"/>
<g class="b">
<text transform="translate(821.86 863.7) scale(0.8154 1)" font-size="25.58" fill="#161616">ON</text>
<text transform="translate(816.91 997.6) scale(0.7728 1)" font-size="25.58" fill="#161616">OFF</text>
</g>
<rect x="811.65" y="1024.4" width="12" height="12" rx="1.5" fill="none" stroke="#161616" stroke-width="1.6"/>
<line x1="810.15" y1="1030.4" x2="825.15" y2="1030.4" stroke="#161616" stroke-width="1.1"/>
<line x1="817.65" y1="1022.9" x2="817.65" y2="1037.9" stroke="#161616" stroke-width="1.1"/>
<rect x="744.7" y="1046.8" width="193.5" height="50.8" rx="2" fill="#e0e0e0" stroke="#161616" stroke-width="1.7"/>
<rect x="748.5" y="1050.6" width="185.9" height="43" rx="1" fill="none" stroke="#161616" stroke-width="1.4"/>
<line x1="746.7" y1="1048.3" x2="936.2" y2="1048.3" stroke="#161616" stroke-width="2.4"/>
<line x1="826.45" y1="1049.2" x2="856.45" y2="1049.2" stroke="#161616" stroke-width="3.2"/>
<rect x="753.3" y="1060.6" width="5.2" height="9.6" rx="1.4" fill="none" stroke="#161616" stroke-width="2.2"/>
<line x1="707.8" y1="961.7" x2="753.3" y2="961.7" stroke="#161616" stroke-width="1.5"/>
<line x1="761" y1="961.7" x2="766.6" y2="961.7" stroke="#161616" stroke-width="1.5"/>
<line x1="774.4" y1="961.7" x2="780" y2="961.7" stroke="#161616" stroke-width="1.5"/>
<line x1="787.7" y1="961.7" x2="821" y2="961.7" stroke="#161616" stroke-width="1.5"/>
<line x1="826" y1="961.7" x2="838" y2="961.7" stroke="#161616" stroke-width="1.5"/>
<line x1="845" y1="961.7" x2="857" y2="961.7" stroke="#161616" stroke-width="1.5"/>
<line x1="864.3" y1="961.7" x2="902" y2="961.7" stroke="#161616" stroke-width="1.5"/>
<line x1="911" y1="961.7" x2="916.5" y2="961.7" stroke="#161616" stroke-width="1.5"/>
<line x1="924.3" y1="961.7" x2="929.9" y2="961.7" stroke="#161616" stroke-width="1.5"/>
<line x1="937.6" y1="961.7" x2="943.2" y2="961.7" stroke="#161616" stroke-width="1.5"/>
<line x1="951" y1="961.7" x2="957.6" y2="961.7" stroke="#161616" stroke-width="1.5"/>
<line x1="966.5" y1="961.7" x2="973" y2="961.7" stroke="#161616" stroke-width="1.5"/>
<line x1="986.5" y1="961.7" x2="993" y2="961.7" stroke="#161616" stroke-width="1.5"/>
<line x1="999.8" y1="961.7" x2="1006.5" y2="961.7" stroke="#161616" stroke-width="1.5"/>
<line x1="1015.3" y1="961.7" x2="1035.4" y2="961.7" stroke="#161616" stroke-width="1.5"/>
<line x1="841.45" y1="615.2" x2="841.45" y2="633.2" stroke="#161616" stroke-width="1.4"/>
<line x1="841.45" y1="642.8" x2="841.45" y2="650.7" stroke="#161616" stroke-width="1.4"/>
<line x1="841.45" y1="658.6" x2="841.45" y2="673.4" stroke="#161616" stroke-width="1.4"/>
<line x1="841.45" y1="683" x2="841.45" y2="700" stroke="#161616" stroke-width="1.4"/>
<line x1="841.45" y1="708" x2="841.45" y2="722" stroke="#161616" stroke-width="1.4"/>
<line x1="841.45" y1="735" x2="841.45" y2="933" stroke="#161616" stroke-width="1.4"/>
<line x1="841.45" y1="938.8" x2="841.45" y2="954.4" stroke="#161616" stroke-width="1.4"/>
<line x1="841.45" y1="960" x2="841.45" y2="975.5" stroke="#161616" stroke-width="1.4"/>
<line x1="841.45" y1="980" x2="841.45" y2="1020" stroke="#161616" stroke-width="1.4"/>
<line x1="841.45" y1="1027.6" x2="841.45" y2="1039" stroke="#161616" stroke-width="1.4"/>
<line x1="841.45" y1="1044.3" x2="841.45" y2="1079" stroke="#161616" stroke-width="1.4"/>
<line x1="841.45" y1="1085" x2="841.45" y2="1096" stroke="#161616" stroke-width="1.4"/>
<line x1="841.45" y1="1103" x2="841.45" y2="1150" stroke="#161616" stroke-width="1.4"/>
<line x1="841.45" y1="1160" x2="841.45" y2="1176" stroke="#161616" stroke-width="1.4"/>
<line x1="841.45" y1="1184" x2="841.45" y2="1200" stroke="#161616" stroke-width="1.4"/>
<line x1="841.45" y1="1207" x2="841.45" y2="1222" stroke="#161616" stroke-width="1.4"/>
<line x1="841.45" y1="1229" x2="841.45" y2="1245" stroke="#161616" stroke-width="1.4"/>
<line x1="841.45" y1="1252" x2="841.45" y2="1268" stroke="#161616" stroke-width="1.4"/>
<line x1="841.45" y1="1275" x2="841.45" y2="1302" stroke="#161616" stroke-width="1.4"/>
<line x1="734.7" y1="490" x2="734.7" y2="766" stroke="#3a3a3a" stroke-width="0.8"/>
<line x1="1015.2" y1="490" x2="1015.2" y2="766" stroke="#3a3a3a" stroke-width="0.8"/>
<line x1="755.2" y1="517" x2="755.2" y2="655" stroke="#3a3a3a" stroke-width="0.8"/>
<line x1="995" y1="517" x2="995" y2="655" stroke="#3a3a3a" stroke-width="0.8"/>
<line x1="774.35" y1="543" x2="774.35" y2="770" stroke="#3a3a3a" stroke-width="0.8"/>
<line x1="975.65" y1="543" x2="975.65" y2="770" stroke="#3a3a3a" stroke-width="0.8"/>
<line x1="835.6" y1="573" x2="835.6" y2="655" stroke="#3a3a3a" stroke-width="0.8"/>
<line x1="914.8" y1="573" x2="914.8" y2="655" stroke="#3a3a3a" stroke-width="0.8"/>
<line x1="734.7" y1="494.7" x2="1015.2" y2="494.7" stroke="#161616" stroke-width="1.7"/>
<polygon points="734.7,494.7 756.2,491.1 756.2,498.3" fill="#161616"/>
<polygon points="1015.2,494.7 993.7,498.3 993.7,491.1" fill="#161616"/>
<text transform="translate(855.67 491) scale(0.9679 1)" font-size="27.5" fill="#161616">184</text>
<line x1="755.2" y1="520.8" x2="995" y2="520.8" stroke="#161616" stroke-width="1.7"/>
<polygon points="755.2,520.8 776.7,517.2 776.7,524.4" fill="#161616"/>
<polygon points="995,520.8 973.5,524.4 973.5,517.2" fill="#161616"/>
<text transform="translate(847.3 518.8) scale(0.9393 1)" font-size="27.91" fill="#161616">157.5</text>
<line x1="774.35" y1="546.3" x2="975.65" y2="546.3" stroke="#161616" stroke-width="1.7"/>
<polygon points="774.35,546.3 795.85,542.7 795.85,549.9" fill="#161616"/>
<polygon points="975.65,546.3 954.15,549.9 954.15,542.7" fill="#161616"/>
<text transform="translate(855.65 543.8) scale(0.9811 1)" font-size="27.5" fill="#161616">132</text>
<line x1="835.6" y1="576.8" x2="914.8" y2="576.8" stroke="#161616" stroke-width="1.7"/>
<polygon points="835.6,576.8 857.1,573.2 857.1,580.4" fill="#161616"/>
<polygon points="914.8,576.8 893.3,580.4 893.3,573.2" fill="#161616"/>
<text transform="translate(853.96 574.3) scale(0.9461 1)" font-size="27.5" fill="#161616">52.5</text>
<text transform="translate(657.26 810) scale(0.7996 1)" font-size="26.6" fill="#161616">M10</text>
<path d="M659.9 814.2 L712.6 814.2 L748 799.8" fill="none" stroke="#161616" stroke-width="1.3" stroke-linejoin="miter"/>
<polygon points="765,792.6 749.95,803.11 747.06,796.51" fill="#161616"/>
<polygon points="785,783.8 800.05,773.29 802.94,779.89" fill="#161616"/>
<text transform="translate(844.6 451.4)" font-size="35" text-anchor="middle" fill="#161616">Y</text>
<text transform="translate(844.2 1416.3)" font-size="35" text-anchor="middle" fill="#161616">Y</text>
<text transform="translate(699.7 971)" font-size="35" text-anchor="middle" fill="#161616">X</text>
<text transform="translate(1052 971)" font-size="35" text-anchor="middle" fill="#161616">X</text>
<path d="M1180.6 762 L1180.6 605.8 Q1180.6 602.8 1183.6 602.8 L1318.4 602.8 Q1321.4 602.8 1321.4 605.8 L1321.4 762 Z" fill="#e0e0e0" stroke="#161616" stroke-width="1.4" stroke-linejoin="round"/>
<line x1="1322.7" y1="606" x2="1322.7" y2="762" stroke="#161616" stroke-width="0.8"/>
<path d="M1180.6 1162 L1180.6 1318.3 Q1180.6 1321.3 1183.6 1321.3 L1319.4 1321.3 Q1322.4 1321.3 1322.4 1318.3 L1322.4 1162 Z" fill="#e0e0e0" stroke="#161616" stroke-width="1.5" stroke-linejoin="round"/>
<rect x="1180.6" y="764" width="141.8" height="395.5" rx="0" fill="#e0e0e0" stroke="#161616" stroke-width="1.9"/>
<path d="M1322.4 809.6 L1340.6 809.6 Q1341.1 809.6 1341.1 810.4 L1341.1 826.7 L1348 826.7 L1348 1097.6 L1340 1097.6 Q1335.4 1097.8 1334.6 1102 A12.5 12.5 0 1 1 1322.4 1088 Z" fill="#e0e0e0" stroke="#161616" stroke-width="1.8" stroke-linejoin="round"/>
<line x1="1322.4" y1="764" x2="1322.4" y2="1087" stroke="#161616" stroke-width="1.6"/>
<path d="M1322.9 1157 L1322.9 1114 L1340.5 1114" fill="none" stroke="#161616" stroke-width="1.5" stroke-linejoin="round"/>
<rect x="1322.9" y="1114.8" width="30" height="42" rx="0" fill="#fff" stroke="none"/>
<line x1="1322.9" y1="1114" x2="1322.9" y2="1160" stroke="#161616" stroke-width="1.5"/>
<line x1="1322.9" y1="1114" x2="1340.5" y2="1114" stroke="#161616" stroke-width="1.5"/>
<line x1="1180.6" y1="762" x2="1322.4" y2="762" stroke="#161616" stroke-width="2.4"/>
<line x1="1180.6" y1="766.4" x2="1322.4" y2="766.4" stroke="#161616" stroke-width="2"/>
<line x1="1180.6" y1="776.5" x2="1287.5" y2="776.5" stroke="#161616" stroke-width="1.3"/>
<line x1="1287.5" y1="770" x2="1322.4" y2="770" stroke="#161616" stroke-width="1.3"/>
<line x1="1287.5" y1="767" x2="1287.5" y2="1157" stroke="#161616" stroke-width="1.6"/>
<line x1="1287.5" y1="1047.4" x2="1322.4" y2="1047.4" stroke="#161616" stroke-width="1.5"/>
<line x1="1180.6" y1="1148.3" x2="1322.4" y2="1148.3" stroke="#161616" stroke-width="1.2"/>
<line x1="1287.5" y1="1154" x2="1322.4" y2="1154" stroke="#161616" stroke-width="1.6"/>
<line x1="1180.6" y1="1157.3" x2="1322.4" y2="1157.3" stroke="#161616" stroke-width="2"/>
<line x1="1180.6" y1="1162.4" x2="1322.4" y2="1162.4" stroke="#161616" stroke-width="2.4"/>
<rect x="1309.8" y="795.5" width="11.6" height="14" rx="0" fill="#e0e0e0" stroke="#161616" stroke-width="1.4"/>
<rect x="1311.6" y="797.5" width="3.5" height="10" rx="1.5" fill="none" stroke="#3a3a3a" stroke-width="0.8"/>
<rect x="1308.9" y="1114" width="11.6" height="13.3" rx="1.5" fill="#e0e0e0" stroke="#161616" stroke-width="1.4"/>
<rect x="1310.6" y="1116" width="3.5" height="9.5" rx="1.5" fill="none" stroke="#3a3a3a" stroke-width="0.8"/>
<rect x="1211" y="767.4" width="9.2" height="48" rx="1" fill="none" stroke="#555" stroke-width="0.8"/>
<rect x="1211" y="767.4" width="9.2" height="48" fill="none" stroke="#e0e0e0" stroke-width="0.9" stroke-dasharray="1 1.2"/>
<rect x="1205.5" y="1108.6" width="9.6" height="48.5" rx="1" fill="none" stroke="#555" stroke-width="0.8"/>
<rect x="1205.5" y="1108.6" width="9.6" height="48.5" fill="none" stroke="#e0e0e0" stroke-width="0.9" stroke-dasharray="1 1.2"/>
<rect x="1323.2" y="851.8" width="15.4" height="15.8" rx="1" fill="#222" stroke="#161616" stroke-width="1.4"/>
<line x1="1324.4" y1="854" x2="1337.4" y2="854" stroke="#6a6a6a" stroke-width="0.5"/>
<line x1="1324.4" y1="856.4" x2="1337.4" y2="856.4" stroke="#6a6a6a" stroke-width="0.5"/>
<line x1="1324.4" y1="858.8" x2="1337.4" y2="858.8" stroke="#6a6a6a" stroke-width="0.5"/>
<line x1="1324.4" y1="861.2" x2="1337.4" y2="861.2" stroke="#6a6a6a" stroke-width="0.5"/>
<line x1="1324.4" y1="863.6" x2="1337.4" y2="863.6" stroke="#6a6a6a" stroke-width="0.5"/>
<line x1="1324.4" y1="866" x2="1337.4" y2="866" stroke="#6a6a6a" stroke-width="0.5"/>
<rect x="1323.2" y="877.2" width="15.4" height="12.4" rx="1" fill="#222" stroke="#161616" stroke-width="1.4"/>
<line x1="1324.4" y1="879.4" x2="1337.4" y2="879.4" stroke="#6a6a6a" stroke-width="0.5"/>
<line x1="1324.4" y1="881.8" x2="1337.4" y2="881.8" stroke="#6a6a6a" stroke-width="0.5"/>
<line x1="1324.4" y1="884.2" x2="1337.4" y2="884.2" stroke="#6a6a6a" stroke-width="0.5"/>
<line x1="1324.4" y1="886.6" x2="1337.4" y2="886.6" stroke="#6a6a6a" stroke-width="0.5"/>
<rect x="1323.2" y="996.8" width="15.4" height="18.2" rx="1" fill="#222" stroke="#161616" stroke-width="1.4"/>
<line x1="1324.4" y1="999" x2="1337.4" y2="999" stroke="#6a6a6a" stroke-width="0.5"/>
<line x1="1324.4" y1="1001.4" x2="1337.4" y2="1001.4" stroke="#6a6a6a" stroke-width="0.5"/>
<line x1="1324.4" y1="1003.8" x2="1337.4" y2="1003.8" stroke="#6a6a6a" stroke-width="0.5"/>
<line x1="1324.4" y1="1006.2" x2="1337.4" y2="1006.2" stroke="#6a6a6a" stroke-width="0.5"/>
<line x1="1324.4" y1="1008.6" x2="1337.4" y2="1008.6" stroke="#6a6a6a" stroke-width="0.5"/>
<line x1="1324.4" y1="1011" x2="1337.4" y2="1011" stroke="#6a6a6a" stroke-width="0.5"/>
<line x1="1324.4" y1="1013.4" x2="1337.4" y2="1013.4" stroke="#6a6a6a" stroke-width="0.5"/>
<rect x="1323.2" y="867.6" width="15.4" height="9.6" rx="0" fill="#fff" stroke="#333" stroke-width="0.9"/>
<path d="M1370 911.8 L1420 912.5 Q1421.5 912.6 1422 911.8 A9.6 9.6 0 1 1 1422 928 Q1421.5 927.6 1420 927.9 L1370 932 Z" fill="#e0e0e0" stroke="#161616" stroke-width="1.6" stroke-linejoin="round"/>
<path d="M1348.6 842.7 A142.5 142.5 0 0 1 1348.6 1019.6 Z" fill="#e0e0e0" stroke="#161616" stroke-width="1.5" stroke-linejoin="round"/>
<path d="M1349.5 846 A220 220 0 0 1 1349.5 987.7" fill="none" stroke="#161616" stroke-width="1.4" stroke-linejoin="round"/>
<path d="M1353.5 862 L1357 871" fill="none" stroke="#161616" stroke-width="1.6" stroke-linejoin="round"/>
<path d="M1238.4 640 L1238.4 735 L1220.4 763 L1239.6 763 L1256.7 735 L1256.7 640 Z" fill="#e0e0e0" stroke="#161616" stroke-width="1.5" stroke-linejoin="round"/>
<line x1="1238.4" y1="735" x2="1256.7" y2="735" stroke="#161616" stroke-width="1.3"/>
<rect x="1256.7" y="671.5" width="16.6" height="4.6" rx="2.3" fill="#e0e0e0" stroke="#161616" stroke-width="1.3"/>
<path d="M1238.4 671.6 L1236 673.8 L1238.4 676" fill="none" stroke="#161616" stroke-width="1.3" stroke-linejoin="round"/>
<line x1="1238.4" y1="629.8" x2="1238.4" y2="640" stroke="#161616" stroke-width="1.2"/>
<line x1="1256.7" y1="573.9" x2="1256.7" y2="640" stroke="#161616" stroke-width="1.2"/>
<path d="M1214.5 1161 L1232.7 1190 L1232.7 1283.6 L1251.4 1283.6 L1251.4 1184 L1236 1161 Z" fill="#e0e0e0" stroke="#161616" stroke-width="1.5" stroke-linejoin="round"/>
<line x1="1230" y1="1182" x2="1250" y2="1182" stroke="#161616" stroke-width="1.3"/>
<rect x="1251.4" y="1247.8" width="21.8" height="5" rx="2.5" fill="#e0e0e0" stroke="#161616" stroke-width="1.3"/>
<line x1="1151" y1="962" x2="1399.3" y2="962" stroke="#161616" stroke-width="1.3" stroke-dasharray="46 9 10 9"/>
<line x1="1180.7" y1="503.8" x2="1180.7" y2="603" stroke="#161616" stroke-width="1.4"/>
<line x1="1436.6" y1="503.8" x2="1436.6" y2="915" stroke="#161616" stroke-width="1.5"/>
<line x1="1348" y1="542.6" x2="1348" y2="827" stroke="#161616" stroke-width="1.5"/>
<line x1="1180.7" y1="516.8" x2="1436.6" y2="516.8" stroke="#161616" stroke-width="1.7"/>
<polygon points="1180.7,516.8 1202.2,513.2 1202.2,520.4" fill="#161616"/>
<polygon points="1436.6,516.8 1415.1,520.4 1415.1,513.2" fill="#161616"/>
<text transform="translate(1278.57 513.4) scale(0.9710 1)" font-size="27.5" fill="#161616">168.4</text>
<line x1="1180.7" y1="551" x2="1348" y2="551" stroke="#161616" stroke-width="1.7"/>
<polygon points="1180.7,551 1202.2,547.4 1202.2,554.6" fill="#161616"/>
<polygon points="1348,551 1326.5,554.6 1326.5,547.4" fill="#161616"/>
<text transform="translate(1244.44 548.7) scale(0.9366 1)" font-size="27.5" fill="#161616">110</text>
<line x1="1180.7" y1="586.9" x2="1256.7" y2="586.9" stroke="#161616" stroke-width="1.7"/>
<polygon points="1180.7,586.9 1202.2,583.3 1202.2,590.5" fill="#161616"/>
<polygon points="1256.7,586.9 1235.2,590.5 1235.2,583.3" fill="#161616"/>
<text transform="translate(1205.44 583) scale(0.9644 1)" font-size="27.5" fill="#161616">50</text>
<line x1="1212.2" y1="630.5" x2="1284" y2="630.5" stroke="#161616" stroke-width="1.3"/>
<polygon points="1238.4,630.5 1218.4,634 1218.4,627" fill="#161616"/>
<polygon points="1256.7,630.5 1276.7,627 1276.7,634" fill="#161616"/>
<text transform="translate(1228.46 625.2) scale(0.9259 1)" font-size="27.5" fill="#161616">12</text>
<line x1="1220.2" y1="729" x2="1220.2" y2="767" stroke="#333" stroke-width="0.9"/>
<line x1="1180.7" y1="732.5" x2="1220.2" y2="732.5" stroke="#161616" stroke-width="1.7"/>
<polygon points="1180.7,732.5 1200.7,729.1 1200.7,735.9" fill="#161616"/>
<polygon points="1220.2,732.5 1200.2,735.9 1200.2,729.1" fill="#161616"/>
<text transform="translate(1186.81 728) scale(1.0362 1)" font-size="26.64" fill="#161616">26</text>
<line x1="1341.1" y1="1097.6" x2="1341.1" y2="1168.4" stroke="#161616" stroke-width="1.4"/>
<line x1="1348" y1="1097.6" x2="1348" y2="1168.4" stroke="#161616" stroke-width="1.4"/>
<line x1="1348" y1="1168" x2="1348" y2="1266.5" stroke="#444" stroke-width="0.9"/>
<line x1="1319.5" y1="1159.2" x2="1394.8" y2="1159.2" stroke="#161616" stroke-width="1.3"/>
<polygon points="1341.1,1159.2 1321.1,1162.7 1321.1,1155.7" fill="#161616"/>
<polygon points="1348,1159.2 1368,1155.7 1368,1162.7" fill="#161616"/>
<text transform="translate(1357.67 1157) scale(0.9869 1)" font-size="27.91" fill="#161616">4.5</text>
<line x1="1295.5" y1="1252.1" x2="1322.4" y2="1252.1" stroke="#161616" stroke-width="1.3"/>
<line x1="1322.4" y1="1252.1" x2="1348" y2="1252.1" stroke="#3a3a3a" stroke-width="0.8"/>
<line x1="1348" y1="1252.1" x2="1394.8" y2="1252.1" stroke="#161616" stroke-width="1.3"/>
<polygon points="1322.4,1252.1 1302.4,1255.6 1302.4,1248.6" fill="#161616"/>
<polygon points="1348,1252.1 1368,1248.6 1368,1255.6" fill="#161616"/>
<text transform="translate(1321.97 1247.1) scale(0.9559 1)" font-size="27.91" fill="#161616">17</text>
<text transform="translate(1055.97 1244.4) scale(1.0541 1)" font-size="15.41" fill="#161616">Межфазная</text>
<text transform="translate(1056.19 1263.5) scale(1.0149 1)" font-size="15.71" fill="#161616">перегородка</text>
<path d="M1039.1 1270.7 L1166.8 1270.7 L1182 1261.7" fill="none" stroke="#161616" stroke-width="1.4" stroke-linejoin="miter"/>
<polygon points="1198.3,1252.1 1182.06,1265.89 1178.39,1259.69" fill="#161616"/>
<path d="M641.4 1492.9 C651.7 1493.8 645.6 1494.6 655.1 1494.7 C664.5 1494.9 660.0 1492.9 669.7 1493.5 C679.5 1494.1 676.1 1492.8 684.4 1496.6 C692.6 1500.4 689.7 1498.1 694.4 1504.8 C699.2 1511.5 698.0 1506.0 698.6 1516.7 C699.2 1527.4 698.9 1522.8 696.2 1536.8 C693.6 1550.8 692.4 1546.6 690.8 1558.8 C689.1 1570.9 689.5 1562.4 691.3 1573.4 C693.1 1584.4 694.6 1580.7 696.2 1591.7 C697.9 1602.6 697.5 1595.3 696.2 1606.3 C695.0 1617.3 693.0 1613.6 692.6 1624.6 C692.2 1635.6 693.6 1629.5 695.0 1639.2 C696.4 1649.0 697.3 1643.5 696.8 1653.9 C696.3 1664.2 694.1 1658.7 693.5 1670.3 C692.9 1681.9 696.1 1677.0 695.0 1688.6 C693.9 1700.2 693.1 1694.7 690.2 1705.1 C687.3 1715.4 686.0 1709.9 686.2 1719.7 C686.4 1729.4 689.4 1723.4 690.8 1734.3 C692.1 1745.3 691.4 1740.4 690.2 1752.6 C689.0 1764.8 686.0 1758.7 687.1 1770.9 C688.2 1783.1 690.5 1777.0 693.5 1789.2 C696.6 1801.4 696.6 1795.9 696.2 1807.5 C695.9 1819.1 692.8 1814.8 692.6 1823.9 C692.4 1833.1 695.9 1828.5 695.7 1834.9 C695.5 1841.3 695.2 1839.2 692.0 1843.1 C688.9 1847.1 693.6 1845.3 686.2 1846.8 C678.8 1848.3 684.7 1848.0 669.7 1847.7 C654.8 1847.4 659.7 1845.9 641.4 1845.9 C623.1 1845.9 629.8 1847.4 614.9 1847.7 C599.9 1848.0 605.8 1848.9 596.6 1846.8 C587.3 1844.7 591.0 1846.5 587.1 1841.3 C583.1 1836.1 584.6 1839.5 584.7 1831.3 C584.8 1823.0 585.9 1825.8 587.4 1816.6 C589.0 1807.5 589.3 1813.6 589.3 1803.8 C589.3 1794.1 586.5 1798.3 587.4 1787.4 C588.3 1776.4 591.1 1782.5 592.0 1770.9 C592.9 1759.3 591.4 1763.6 590.2 1752.6 C589.0 1741.6 587.1 1749.0 588.3 1738.0 C589.6 1727.0 593.2 1731.3 593.8 1719.7 C594.4 1708.1 590.2 1714.8 590.2 1703.2 C590.2 1691.7 593.8 1697.7 593.8 1684.9 C593.8 1672.1 590.2 1677.6 590.2 1664.8 C590.2 1652.0 591.7 1658.1 593.8 1646.5 C596.0 1635.0 596.9 1643.5 596.6 1630.1 C596.3 1616.7 593.8 1620.3 592.9 1606.3 C592.0 1592.3 595.1 1598.4 593.8 1588.0 C592.6 1577.7 592.3 1583.1 589.3 1575.2 C586.2 1567.3 584.7 1572.2 584.7 1564.2 C584.7 1556.3 587.4 1561.8 589.3 1551.4 C591.1 1541.1 590.7 1544.1 590.2 1533.2 C589.7 1522.2 587.2 1528.3 587.8 1518.5 C588.4 1508.8 586.6 1511.2 592.0 1503.9 C597.4 1496.6 593.2 1500.5 603.9 1496.6 C614.6 1492.6 611.5 1493.2 624.0 1492.0 C636.5 1490.8 631.0 1492.0 641.4 1492.9 Z" fill="#e0e0e0" stroke="#161616" stroke-width="1.6" stroke-linejoin="round"/>
<line x1="641.2" y1="1471.9" x2="641.2" y2="1484.7" stroke="#161616" stroke-width="1.7"/>
<line x1="641.2" y1="1492" x2="641.2" y2="1567.9" stroke="#161616" stroke-width="1.7"/>
<line x1="641.2" y1="1573.4" x2="641.2" y2="1584.4" stroke="#161616" stroke-width="1.7"/>
<line x1="641.2" y1="1589.8" x2="641.2" y2="1635.5" stroke="#161616" stroke-width="1.7"/>
<line x1="641.2" y1="1641" x2="641.2" y2="1652" stroke="#161616" stroke-width="1.7"/>
<line x1="641.2" y1="1657.5" x2="641.2" y2="1703.2" stroke="#161616" stroke-width="1.7"/>
<line x1="641.2" y1="1708.7" x2="641.2" y2="1719.7" stroke="#161616" stroke-width="1.7"/>
<line x1="641.2" y1="1725.2" x2="641.2" y2="1771" stroke="#161616" stroke-width="1.7"/>
<line x1="641.2" y1="1776.4" x2="641.2" y2="1787.4" stroke="#161616" stroke-width="1.7"/>
<line x1="641.2" y1="1792.8" x2="641.2" y2="1876" stroke="#161616" stroke-width="1.7"/>
<line x1="579.2" y1="1673.1" x2="625.8" y2="1673.1" stroke="#161616" stroke-width="1.7"/>
<line x1="635.9" y1="1673.1" x2="645" y2="1673.1" stroke="#161616" stroke-width="1.7"/>
<line x1="654.2" y1="1673.1" x2="699.9" y2="1673.1" stroke="#161616" stroke-width="1.7"/>
<line x1="597.5" y1="1520.6" x2="603" y2="1520.6" stroke="#777" stroke-width="1"/>
<line x1="613" y1="1520.6" x2="621.3" y2="1520.6" stroke="#777" stroke-width="1"/>
<line x1="635" y1="1520.6" x2="646" y2="1520.6" stroke="#777" stroke-width="1"/>
<line x1="661.5" y1="1520.6" x2="669.7" y2="1520.6" stroke="#777" stroke-width="1"/>
<line x1="679.8" y1="1520.6" x2="699" y2="1520.6" stroke="#777" stroke-width="1"/>
<line x1="699" y1="1520.6" x2="749.5" y2="1520.6" stroke="#666" stroke-width="1"/>
<circle cx="607.9" cy="1520.6" r="4.1" fill="none" stroke="#161616" stroke-width="1.5"/>
<line x1="607.9" y1="1512.1" x2="607.9" y2="1529.1" stroke="#444" stroke-width="0.9"/>
<circle cx="674.6" cy="1520.6" r="4.1" fill="none" stroke="#161616" stroke-width="1.5"/>
<line x1="674.6" y1="1512.1" x2="674.6" y2="1529.1" stroke="#444" stroke-width="0.9"/>
<line x1="597.5" y1="1825.2" x2="603" y2="1825.2" stroke="#777" stroke-width="1"/>
<line x1="613" y1="1825.2" x2="621.3" y2="1825.2" stroke="#777" stroke-width="1"/>
<line x1="635" y1="1825.2" x2="646" y2="1825.2" stroke="#777" stroke-width="1"/>
<line x1="661.5" y1="1825.2" x2="669.7" y2="1825.2" stroke="#777" stroke-width="1"/>
<line x1="679.8" y1="1825.2" x2="699" y2="1825.2" stroke="#777" stroke-width="1"/>
<line x1="699" y1="1825.2" x2="749.5" y2="1825.2" stroke="#666" stroke-width="1"/>
<circle cx="607.9" cy="1825.2" r="4.1" fill="none" stroke="#161616" stroke-width="1.5"/>
<line x1="607.9" y1="1816.7" x2="607.9" y2="1833.7" stroke="#444" stroke-width="0.9"/>
<circle cx="674.6" cy="1825.2" r="4.1" fill="none" stroke="#161616" stroke-width="1.5"/>
<line x1="674.6" y1="1816.7" x2="674.6" y2="1833.7" stroke="#444" stroke-width="0.9"/>
<line x1="742" y1="1520.6" x2="742" y2="1825.2" stroke="#161616" stroke-width="1.6"/>
<polygon points="742,1520.6 746,1542.6 738,1542.6" fill="#161616"/>
<polygon points="742,1825.2 738,1803.2 746,1803.2" fill="#161616"/>
<text transform="translate(736.2 1693.57) rotate(-90) scale(0.9778 1)" font-size="27.78" fill="#161616">200</text>
<text transform="translate(547.42 1688.3) scale(0.6843 1)" font-size="37.5" fill="#161616">X</text>
<text transform="translate(758.42 1688.3) scale(0.6843 1)" font-size="37.5" fill="#161616">X</text>
<text transform="translate(629.71 1453.8) scale(0.6284 1)" font-size="35.76" fill="#161616">Y</text>
<text transform="translate(627.8 1919) scale(0.6329 1)" font-size="35.76" fill="#161616">Y</text>
<text transform="translate(705.49 1848.7) scale(0.9690 1)" font-size="27.18" fill="#161616">Ø5.5 или M5</text>
<path d="M848.2 1852.7 L707.5 1852.7 L644.2 1804.9" fill="none" stroke="#161616" stroke-width="1.4" stroke-linejoin="miter"/>
<polygon points="670.9,1822.4 655.23,1814.88 659.63,1809.18" fill="#161616"/>
<polygon points="678.2,1828 693.87,1835.52 689.47,1841.22" fill="#161616"/>
<line x1="607.9" y1="1816" x2="607.9" y2="1884" stroke="#333" stroke-width="0.9"/>
<line x1="674.6" y1="1816" x2="674.6" y2="1884" stroke="#333" stroke-width="0.9"/>
<line x1="607.9" y1="1878" x2="674.6" y2="1878" stroke="#161616" stroke-width="1.7"/>
<polygon points="607.9,1878 627.9,1874.4 627.9,1881.6" fill="#161616"/>
<polygon points="674.6,1878 654.6,1881.6 654.6,1874.4" fill="#161616"/>
<text transform="translate(627.19 1875.7) scale(0.9532 1)" font-size="27.91" fill="#161616">44</text>
<text transform="translate(553.79 1971) scale(0.9693 1)" font-size="26.6" fill="#161616">Разметка для установки</text>
<text transform="translate(554.11 2000.6) scale(0.9830 1)" font-size="26.31" fill="#161616">на монтажную панель</text>
</g>
<line x1="0.7" y1="0" x2="0.7" y2="2480" stroke="#555" stroke-width="1.4"/>
<line x1="144" y1="1.8" x2="1751" y2="1.8" stroke="#777" stroke-width="1.2"/>
<line x1="0" y1="2479.3" x2="1751" y2="2479.3" stroke="#111" stroke-width="1.5"/>
<line x1="1750.2" y1="0" x2="1750.2" y2="2480" stroke="#777" stroke-width="1.6"/>
<text x="120.6" y="2116.2" font-size="35.6" fill="#161616" stroke="#161616" stroke-width="0.7" textLength="1346.6" lengthAdjust="spacingAndGlyphs">Рисунок 1. Габаритные и установочные размеры выключателя автоматического с электронным расцепителем</text>
<text x="120.6" y="2154.2" font-size="35.6" fill="#161616" stroke="#161616" stroke-width="0.7" textLength="532.5" lengthAdjust="spacingAndGlyphs">в литом корпусе - MCCB типоразмеров H, I</text>
</svg>
</body>
</html>
